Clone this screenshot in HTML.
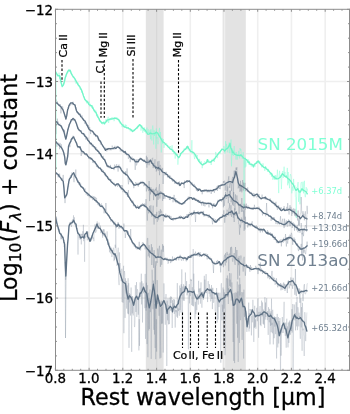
<!DOCTYPE html><html><head><meta charset="utf-8"><title>Spectra</title><style>html,body{margin:0;padding:0;background:#fff;}svg{display:block;}text{font-family:"DejaVu Sans", "Liberation Sans", sans-serif;}</style></head><body><svg width="350" height="414" viewBox="0 0 350 414"><rect width="350" height="414" fill="#fff"/><defs><clipPath id="ax"><rect x="55.5" y="9.3" width="294.0" height="361.0"/></clipPath></defs><path d="M89.12 9.3V370.3M122.84 9.3V370.3M156.56 9.3V370.3M190.28 9.3V370.3M224.00 9.3V370.3M257.72 9.3V370.3M291.44 9.3V370.3M325.16 9.3V370.3M55.5 81.50H349.5M55.5 153.70H349.5M55.5 225.90H349.5M55.5 298.10H349.5" stroke="#efefef" stroke-opacity="1" stroke-width="1.6" fill="none"/><rect x="145.8" y="9.3" width="17.8" height="361.0" fill="#e3e3e3"/><rect x="156.0" y="9.3" width="1.2" height="361.0" fill="#d8d8d8"/><rect x="222.6" y="9.3" width="23.2" height="361.0" fill="#e3e3e3"/><rect x="223.8" y="9.3" width="1.5" height="361.0" fill="#efefef"/><g clip-path="url(#ax)" fill="none" stroke-linejoin="round"><path d="M55.5 72.3L56.0 71.3L56.4 72.0L56.9 74.8L57.3 75.2L57.8 76.2L58.2 75.1L58.7 75.6L59.1 72.7L59.6 78.8L60.0 75.8L60.5 79.3L60.9 80.7L61.4 84.4L61.8 85.9L62.3 86.2L62.7 85.2L63.2 85.9L63.6 84.4L64.1 81.8L64.5 81.8L65.0 80.6L65.4 76.3L65.9 76.3L66.3 76.6L66.8 74.0L67.2 72.7L67.7 72.7L68.1 72.7L68.6 70.4L69.0 69.1L69.5 70.7L69.9 71.6L70.4 70.8L70.8 71.4L71.3 73.8L71.7 73.6L72.2 73.9L72.6 76.3L73.1 77.5L73.5 76.5L74.0 77.2L74.4 76.8L74.9 80.5L75.3 82.2L75.8 83.6L76.2 83.3L76.7 81.7L77.1 82.0L77.6 84.5L78.0 82.7L78.5 84.3L78.9 85.3L79.4 86.2L79.8 86.1L80.3 89.6L80.7 87.7L81.2 88.4L81.6 92.6L82.1 91.1L82.5 93.1L83.0 93.0L83.4 95.7L83.9 96.4L84.3 97.2L84.8 99.9L85.2 99.3L85.7 100.6L86.1 100.3L86.6 103.3L87.0 100.4L87.5 101.4L87.9 102.9L88.4 102.3L88.8 102.0L89.3 101.8L89.7 106.4L90.2 103.8L90.6 104.7L91.1 105.9L91.5 107.5L92.0 105.1L92.4 108.7L92.9 107.1L93.3 106.9L93.8 111.3L94.2 110.3L94.7 112.4L95.1 111.1L95.6 110.3L96.0 110.4L96.5 116.0L96.9 115.4L97.4 114.7L97.8 114.5L98.3 116.8L98.7 119.2L99.2 118.8L99.6 120.1L100.1 120.9L100.5 122.0L101.0 121.1L101.4 121.6L101.9 122.6L102.3 122.9L102.8 124.4L103.2 123.4L103.7 121.4L104.1 123.3L104.6 125.0L105.0 121.3L105.5 120.4L105.9 119.2L106.4 121.1L106.8 121.1L107.3 122.1L107.7 118.4L108.2 116.8L108.6 123.0L109.1 120.4L109.5 118.7L110.0 120.3L110.4 119.5L110.9 119.4L111.3 118.6L111.8 117.4L112.2 118.6L112.7 117.5L113.1 119.0L113.6 118.0L114.0 121.2L114.5 120.2L114.9 117.2L115.4 118.9L115.8 117.4L116.3 117.8L116.7 117.1L117.2 118.0L117.6 118.1L118.1 119.8L118.5 121.2L119.0 121.8L119.4 122.1L119.9 123.6L120.3 123.5L120.8 123.5L121.2 123.7L121.7 124.8L122.1 127.2L122.6 125.3L123.0 125.1L123.5 124.3L123.9 125.3L124.4 127.2L124.8 127.6L125.3 124.5L125.7 126.3L126.2 125.2L126.6 125.1L127.1 128.9L127.5 127.6L128.0 127.7L128.4 127.8L128.9 128.1L129.3 128.7L129.8 128.5L130.2 131.3L130.7 129.8L131.1 130.8L131.6 129.9L132.0 130.9L132.5 129.8L132.9 129.6L133.4 129.9L133.8 129.6L134.3 129.5L134.7 129.9L135.2 129.6L135.6 129.2L136.1 127.8L136.5 127.9L137.0 126.8L137.4 128.8L137.9 125.6L138.3 127.2L138.8 126.7L139.2 125.5L139.7 125.7L140.1 125.0L140.6 126.6L141.0 130.6L141.5 127.8L141.9 125.6L142.4 127.6L142.8 132.8L143.3 128.5L143.7 131.0L144.2 127.3L144.6 131.9L145.1 129.8L145.5 130.2L146.0 133.4L146.4 130.5L146.9 127.6L147.3 130.9L147.8 132.6L148.2 129.3L148.7 133.1L149.1 132.0L149.6 134.5L150.0 130.2L150.5 139.2L150.9 129.2L151.4 136.5L151.8 140.5L152.3 131.8L152.7 125.6L153.2 129.1L153.6 144.5L154.1 130.2L154.5 136.0L155.0 133.6L155.4 131.8L155.9 148.7L156.3 128.5L156.8 138.6L157.2 137.1L157.7 143.2L158.1 144.2L158.6 140.7L159.0 131.1L159.5 127.9L159.9 137.0L160.4 132.0L160.8 139.9L161.3 152.4L161.7 139.1L162.2 138.3L162.6 143.8L163.1 140.1L163.5 139.1L164.0 147.9L164.4 145.0L164.9 143.8L165.3 144.3L165.8 144.9L166.2 143.7L166.7 143.3L167.1 146.3L167.6 145.4L168.0 145.5L168.5 146.2L168.9 146.1L169.4 148.2L169.8 147.2L170.3 146.0L170.7 147.7L171.2 149.9L171.6 148.7L172.1 145.3L172.5 149.9L173.0 151.7L173.4 149.7L173.9 153.8L174.3 152.2L174.8 153.4L175.2 158.6L175.7 152.5L176.1 153.8L176.6 155.9L177.0 154.1L177.5 156.2L177.9 164.7L178.4 158.4L178.8 158.1L179.3 156.7L179.7 156.4L180.2 155.6L180.6 154.2L181.1 154.4L181.5 152.1L182.0 152.7L182.4 151.9L182.9 151.0L183.3 152.5L183.8 151.5L184.2 148.3L184.7 149.3L185.1 149.6L185.6 148.4L186.0 149.0L186.5 147.6L186.9 148.3L187.4 146.7L187.8 149.3L188.3 146.3L188.7 149.1L189.2 151.1L189.6 149.9L190.1 150.7L190.5 150.6L191.0 152.5L191.4 150.8L191.9 140.2L192.3 153.5L192.8 151.7L193.2 153.0L193.7 153.0L194.1 156.2L194.6 159.1L195.0 154.5L195.5 155.7L195.9 154.3L196.4 157.9L196.8 157.5L197.3 155.0L197.7 160.2L198.2 161.1L198.6 160.8L199.1 161.4L199.5 158.9L200.0 162.4L200.4 164.1L200.9 162.9L201.3 161.2L201.8 163.1L202.2 168.2L202.7 164.6L203.1 165.4L203.6 163.3L204.0 164.2L204.5 161.5L204.9 162.3L205.4 161.9L205.8 162.3L206.3 162.1L206.7 161.2L207.2 159.6L207.6 160.3L208.1 161.6L208.5 159.7L209.0 160.7L209.4 161.7L209.9 162.8L210.3 162.6L210.8 162.4L211.2 165.0L211.7 159.7L212.1 160.0L212.6 160.6L213.0 158.8L213.5 159.1L213.9 158.7L214.4 162.0L214.8 158.6L215.3 157.2L215.7 151.9L216.2 154.7L216.6 154.6L217.1 157.2L217.5 158.1L218.0 153.9L218.4 154.0L218.9 152.2L219.3 153.3L219.8 151.9L220.2 153.5L220.7 150.4L221.1 150.9L221.6 149.3L222.0 148.8L222.5 149.6L222.9 149.3L223.4 149.9L223.8 146.0L224.3 147.4L224.7 153.6L225.2 153.5L225.6 141.1L226.1 149.9L226.5 143.9L227.0 146.6L227.4 151.8L227.9 152.4L228.3 146.5L228.8 145.1L229.2 142.5L229.7 153.2L230.1 148.4L230.6 146.7L231.0 139.6L231.5 166.3L231.9 148.0L232.4 154.9L232.8 150.2L233.3 155.9L233.7 151.4L234.2 146.1L234.6 152.4L235.1 152.4L235.5 153.0L236.0 159.6L236.4 152.0L236.9 156.1L237.3 159.7L237.8 154.9L238.2 156.1L238.7 150.9L239.1 155.3L239.6 158.4L240.0 148.1L240.5 150.4L240.9 149.2L241.4 152.7L241.8 156.9L242.3 159.0L242.7 158.5L243.2 152.2L243.6 156.8L244.1 208.3L244.5 158.3L245.0 167.6L245.4 157.7L245.9 166.6L246.3 160.9L246.8 159.3L247.2 160.6L247.7 163.0L248.1 160.5L248.6 159.5L249.0 164.6L249.5 161.0L249.9 164.5L250.4 164.6L250.8 164.5L251.3 166.5L251.7 163.4L252.2 164.7L252.6 166.6L253.1 166.4L253.5 168.0L254.0 166.0L254.4 163.9L254.9 166.9L255.3 164.8L255.8 163.6L256.2 162.0L256.7 161.2L257.1 163.0L257.6 163.0L258.0 161.0L258.5 162.1L258.9 163.3L259.4 161.2L259.8 160.9L260.3 163.1L260.7 164.1L261.2 163.6L261.6 167.3L262.1 165.3L262.5 167.1L263.0 163.3L263.4 165.7L263.9 166.9L264.3 167.6L264.8 170.9L265.2 167.0L265.7 166.1L266.1 169.3L266.6 168.0L267.0 168.4L267.5 171.8L267.9 169.0L268.4 169.0L268.8 170.8L269.3 171.8L269.7 171.3L270.2 174.9L270.6 173.3L271.1 172.5L271.5 176.7L272.0 173.5L272.4 176.2L272.9 179.9L273.3 176.3L273.8 178.5L274.2 176.1L274.7 179.9L275.1 175.1L275.6 179.7L276.0 175.4L276.5 179.7L276.9 179.2L277.4 169.7L277.8 178.0L278.3 180.0L278.7 193.1L279.2 174.4L279.6 170.8L280.1 177.9L280.5 175.4L281.0 179.6L281.4 189.1L281.9 177.9L282.3 172.7L282.8 171.0L283.2 177.9L283.7 172.2L284.1 166.7L284.6 175.1L285.0 171.9L285.5 177.9L285.9 177.5L286.4 175.1L286.8 177.8L287.3 167.9L287.7 185.3L288.2 172.0L288.6 183.3L289.1 180.2L289.5 188.2L290.0 176.8L290.4 174.1L290.9 175.5L291.3 177.2L291.8 193.3L292.2 188.0L292.7 186.5L293.1 190.7L293.6 178.9L294.0 185.2L294.5 187.5L294.9 185.4L295.4 196.6L295.8 197.4L296.3 218.0L296.7 187.0L297.2 187.5L297.6 185.5L298.1 182.1L298.5 201.8L299.0 194.9L299.4 190.0L299.9 204.3L300.3 196.0L300.8 183.8L301.2 182.5L301.7 181.9L302.1 188.7L302.6 191.2L303.0 181.8L303.5 193.3L303.9 187.5L304.4 180.8L304.8 194.2L305.3 197.2L305.7 191.8L306.2 187.2L306.6 188.5L307.1 191.6L307.5 188.7" stroke="#7fffd4" stroke-opacity="0.50" stroke-width="0.8"/><path d="M55.5 102.5L56.0 99.4L56.4 100.4L56.9 102.1L57.3 101.5L57.8 104.9L58.2 104.5L58.7 105.6L59.1 104.7L59.6 104.0L60.0 105.5L60.5 104.4L60.9 113.4L61.4 106.9L61.8 108.8L62.3 106.6L62.7 106.4L63.2 109.2L63.6 111.7L64.1 112.3L64.5 113.8L65.0 116.5L65.4 118.2L65.9 119.2L66.3 118.0L66.8 115.9L67.2 112.8L67.7 110.6L68.1 107.5L68.6 108.8L69.0 104.9L69.5 105.9L69.9 105.2L70.4 105.5L70.8 103.6L71.3 103.7L71.7 103.1L72.2 105.1L72.6 103.2L73.1 101.7L73.5 103.6L74.0 105.0L74.4 103.9L74.9 106.2L75.3 106.1L75.8 107.2L76.2 109.6L76.7 112.7L77.1 111.9L77.6 111.8L78.0 113.6L78.5 113.1L78.9 112.9L79.4 114.9L79.8 113.4L80.3 113.6L80.7 114.8L81.2 115.4L81.6 116.2L82.1 115.5L82.5 118.1L83.0 118.7L83.4 118.5L83.9 120.7L84.3 121.9L84.8 123.8L85.2 121.0L85.7 121.7L86.1 124.7L86.6 125.8L87.0 124.8L87.5 125.6L87.9 126.4L88.4 125.1L88.8 126.8L89.3 128.4L89.7 127.1L90.2 130.8L90.6 134.1L91.1 130.2L91.5 130.2L92.0 130.6L92.4 131.2L92.9 131.4L93.3 131.8L93.8 135.1L94.2 134.4L94.7 133.6L95.1 133.9L95.6 136.9L96.0 134.5L96.5 136.8L96.9 137.1L97.4 137.1L97.8 137.2L98.3 140.3L98.7 138.3L99.2 139.7L99.6 141.5L100.1 141.6L100.5 144.5L101.0 143.5L101.4 143.4L101.9 145.2L102.3 145.5L102.8 146.1L103.2 146.6L103.7 146.3L104.1 148.1L104.6 149.0L105.0 148.7L105.5 147.7L105.9 150.3L106.4 149.2L106.8 151.5L107.3 148.1L107.7 148.8L108.2 147.9L108.6 149.3L109.1 150.3L109.5 148.1L110.0 148.1L110.4 149.8L110.9 150.4L111.3 148.1L111.8 148.7L112.2 145.6L112.7 148.9L113.1 148.7L113.6 148.1L114.0 149.7L114.5 148.7L114.9 145.8L115.4 147.5L115.8 149.3L116.3 148.5L116.7 146.2L117.2 146.0L117.6 146.3L118.1 146.9L118.5 146.6L119.0 147.1L119.4 148.7L119.9 147.8L120.3 151.4L120.8 150.9L121.2 150.3L121.7 150.5L122.1 152.0L122.6 150.6L123.0 150.2L123.5 151.2L123.9 151.8L124.4 151.4L124.8 152.2L125.3 154.3L125.7 153.6L126.2 152.3L126.6 155.3L127.1 154.3L127.5 155.1L128.0 156.0L128.4 158.9L128.9 155.6L129.3 155.8L129.8 156.2L130.2 162.2L130.7 157.8L131.1 157.6L131.6 157.4L132.0 156.7L132.5 158.4L132.9 158.6L133.4 159.1L133.8 161.1L134.3 160.3L134.7 161.4L135.2 169.9L135.6 163.0L136.1 159.1L136.5 165.4L137.0 164.0L137.4 161.7L137.9 159.1L138.3 160.4L138.8 159.6L139.2 160.0L139.7 159.4L140.1 157.6L140.6 157.9L141.0 159.0L141.5 158.2L141.9 158.2L142.4 160.3L142.8 159.5L143.3 159.8L143.7 161.0L144.2 159.2L144.6 160.9L145.1 161.7L145.5 163.2L146.0 163.0L146.4 155.8L146.9 167.7L147.3 157.3L147.8 164.5L148.2 160.4L148.7 159.6L149.1 165.3L149.6 162.6L150.0 160.4L150.5 160.0L150.9 161.4L151.4 163.4L151.8 160.1L152.3 158.2L152.7 157.8L153.2 168.1L153.6 163.4L154.1 165.3L154.5 164.0L155.0 159.2L155.4 167.9L155.9 167.2L156.3 171.5L156.8 168.8L157.2 170.3L157.7 161.5L158.1 166.7L158.6 170.7L159.0 160.9L159.5 175.2L159.9 165.4L160.4 165.1L160.8 167.2L161.3 171.1L161.7 170.9L162.2 172.3L162.6 167.9L163.1 184.0L163.5 174.4L164.0 171.9L164.4 173.6L164.9 175.4L165.3 173.9L165.8 174.8L166.2 171.8L166.7 173.2L167.1 174.9L167.6 177.5L168.0 175.9L168.5 177.1L168.9 175.8L169.4 175.2L169.8 177.1L170.3 175.7L170.7 176.7L171.2 178.1L171.6 180.2L172.1 179.5L172.5 181.6L173.0 179.2L173.4 180.5L173.9 179.5L174.3 181.0L174.8 183.8L175.2 181.2L175.7 181.3L176.1 180.8L176.6 183.8L177.0 184.0L177.5 182.7L177.9 184.6L178.4 185.2L178.8 185.1L179.3 181.4L179.7 186.2L180.2 185.4L180.6 184.6L181.1 183.8L181.5 182.5L182.0 182.8L182.4 182.8L182.9 183.5L183.3 183.3L183.8 184.0L184.2 188.1L184.7 180.5L185.1 182.9L185.6 181.0L186.0 182.2L186.5 181.6L186.9 181.7L187.4 183.0L187.8 181.6L188.3 181.1L188.7 180.6L189.2 181.0L189.6 180.6L190.1 181.8L190.5 182.6L191.0 185.2L191.4 184.0L191.9 182.2L192.3 184.2L192.8 183.9L193.2 185.4L193.7 186.4L194.1 183.9L194.6 186.2L195.0 185.4L195.5 186.9L195.9 188.2L196.4 190.7L196.8 188.0L197.3 190.5L197.7 191.6L198.2 188.0L198.6 188.9L199.1 189.3L199.5 190.2L200.0 190.6L200.4 190.4L200.9 191.0L201.3 191.4L201.8 190.9L202.2 194.3L202.7 190.4L203.1 191.9L203.6 190.1L204.0 189.6L204.5 191.7L204.9 189.7L205.4 189.6L205.8 191.1L206.3 190.7L206.7 189.6L207.2 192.4L207.6 190.4L208.1 189.9L208.5 190.9L209.0 192.4L209.4 191.3L209.9 189.5L210.3 190.0L210.8 191.4L211.2 194.0L211.7 191.1L212.1 191.0L212.6 191.7L213.0 191.2L213.5 190.0L213.9 189.3L214.4 192.8L214.8 188.7L215.3 189.3L215.7 187.9L216.2 188.9L216.6 187.9L217.1 186.2L217.5 190.9L218.0 185.3L218.4 186.4L218.9 188.2L219.3 189.0L219.8 185.4L220.2 189.2L220.7 184.3L221.1 185.0L221.6 185.3L222.0 183.9L222.5 184.6L222.9 183.9L223.4 181.1L223.8 183.0L224.3 180.9L224.7 180.8L225.2 190.6L225.6 185.0L226.1 184.2L226.5 185.2L227.0 191.2L227.4 185.8L227.9 181.5L228.3 180.2L228.8 176.3L229.2 184.8L229.7 188.0L230.1 184.1L230.6 182.6L231.0 184.2L231.5 191.1L231.9 180.3L232.4 178.0L232.8 176.8L233.3 199.3L233.7 179.9L234.2 170.7L234.6 178.0L235.1 170.5L235.5 173.7L236.0 167.6L236.4 169.9L236.9 167.3L237.3 176.2L237.8 178.5L238.2 188.4L238.7 185.4L239.1 187.6L239.6 186.6L240.0 191.9L240.5 180.8L240.9 190.9L241.4 184.9L241.8 192.3L242.3 184.9L242.7 180.0L243.2 190.6L243.6 182.6L244.1 187.7L244.5 186.5L245.0 182.9L245.4 191.2L245.9 189.4L246.3 189.8L246.8 190.5L247.2 191.4L247.7 187.4L248.1 191.7L248.6 190.6L249.0 191.2L249.5 193.4L249.9 191.6L250.4 194.1L250.8 192.9L251.3 192.5L251.7 195.2L252.2 195.8L252.6 196.1L253.1 192.9L253.5 196.1L254.0 197.4L254.4 193.6L254.9 196.0L255.3 195.6L255.8 196.3L256.2 197.4L256.7 197.1L257.1 195.4L257.6 196.5L258.0 196.5L258.5 197.0L258.9 194.0L259.4 196.3L259.8 197.1L260.3 198.7L260.7 199.4L261.2 197.6L261.6 197.3L262.1 194.6L262.5 197.6L263.0 197.7L263.4 197.3L263.9 198.7L264.3 198.7L264.8 197.2L265.2 199.4L265.7 198.1L266.1 197.4L266.6 198.2L267.0 198.2L267.5 200.1L267.9 199.2L268.4 199.6L268.8 198.9L269.3 199.3L269.7 200.0L270.2 198.4L270.6 200.2L271.1 201.5L271.5 202.3L272.0 202.1L272.4 203.1L272.9 200.8L273.3 202.5L273.8 204.0L274.2 204.9L274.7 205.9L275.1 205.1L275.6 203.2L276.0 201.8L276.5 206.0L276.9 206.0L277.4 209.8L277.8 205.8L278.3 207.7L278.7 205.4L279.2 208.3L279.6 209.2L280.1 208.3L280.5 210.2L281.0 207.0L281.4 209.1L281.9 208.9L282.3 209.0L282.8 210.3L283.2 208.7L283.7 208.4L284.1 206.1L284.6 209.5L285.0 208.8L285.5 210.6L285.9 210.4L286.4 210.3L286.8 206.8L287.3 209.4L287.7 203.1L288.2 210.1L288.6 210.4L289.1 214.5L289.5 207.6L290.0 205.1L290.4 210.6L290.9 206.8L291.3 208.3L291.8 215.9L292.2 208.9L292.7 213.6L293.1 212.1L293.6 208.4L294.0 211.3L294.5 215.5L294.9 208.8L295.4 216.3L295.8 213.9L296.3 214.9L296.7 214.8L297.2 217.4L297.6 220.5L298.1 210.5L298.5 225.5L299.0 219.4L299.4 225.7L299.9 217.2L300.3 213.8L300.8 213.0L301.2 197.0L301.7 211.8L302.1 214.5L302.6 215.3L303.0 211.2L303.5 216.2L303.9 213.8L304.4 220.3L304.8 216.9L305.3 211.3L305.7 218.2L306.2 217.0L306.6 228.6L307.1 205.8L307.5 213.9" stroke="#708090" stroke-opacity="0.35" stroke-width="0.8"/><path d="M55.5 119.9L56.0 134.2L56.4 121.0L56.9 122.2L57.3 118.6L57.8 122.7L58.2 121.7L58.7 124.0L59.1 124.9L59.6 124.1L60.0 123.7L60.5 125.8L60.9 126.0L61.4 125.6L61.8 126.3L62.3 128.3L62.7 128.9L63.2 131.6L63.6 129.1L64.1 132.5L64.5 129.9L65.0 135.4L65.4 135.5L65.9 137.3L66.3 136.9L66.8 133.5L67.2 133.9L67.7 129.2L68.1 130.1L68.6 126.7L69.0 124.5L69.5 123.9L69.9 123.6L70.4 123.2L70.8 121.8L71.3 119.4L71.7 119.0L72.2 120.4L72.6 120.5L73.1 117.9L73.5 120.6L74.0 120.0L74.4 120.7L74.9 119.5L75.3 121.0L75.8 121.8L76.2 123.0L76.7 125.3L77.1 125.5L77.6 126.1L78.0 129.2L78.5 127.6L78.9 130.2L79.4 129.3L79.8 130.2L80.3 130.3L80.7 131.3L81.2 130.3L81.6 132.8L82.1 133.1L82.5 133.8L83.0 132.8L83.4 134.5L83.9 134.9L84.3 133.9L84.8 134.0L85.2 135.2L85.7 139.5L86.1 138.0L86.6 138.7L87.0 139.5L87.5 140.3L87.9 137.7L88.4 140.7L88.8 142.0L89.3 140.9L89.7 142.1L90.2 142.5L90.6 143.8L91.1 143.6L91.5 143.5L92.0 146.6L92.4 146.7L92.9 144.2L93.3 144.9L93.8 148.0L94.2 147.9L94.7 147.5L95.1 149.2L95.6 148.8L96.0 147.2L96.5 149.4L96.9 148.9L97.4 150.9L97.8 150.8L98.3 150.3L98.7 153.9L99.2 153.3L99.6 154.0L100.1 153.7L100.5 152.9L101.0 154.4L101.4 157.4L101.9 156.6L102.3 157.8L102.8 158.4L103.2 155.8L103.7 159.7L104.1 158.9L104.6 160.5L105.0 159.5L105.5 161.0L105.9 162.3L106.4 163.5L106.8 163.2L107.3 166.4L107.7 167.2L108.2 167.8L108.6 165.3L109.1 167.3L109.5 168.3L110.0 167.8L110.4 164.9L110.9 167.8L111.3 167.0L111.8 167.5L112.2 167.9L112.7 168.6L113.1 168.9L113.6 168.1L114.0 170.1L114.5 164.8L114.9 164.6L115.4 167.3L115.8 167.5L116.3 168.1L116.7 164.1L117.2 167.1L117.6 166.3L118.1 171.6L118.5 166.2L119.0 164.5L119.4 167.5L119.9 166.8L120.3 168.1L120.8 167.5L121.2 168.0L121.7 169.6L122.1 170.8L122.6 170.4L123.0 171.1L123.5 172.4L123.9 171.7L124.4 172.2L124.8 174.2L125.3 174.0L125.7 171.1L126.2 173.8L126.6 175.1L127.1 168.4L127.5 176.8L128.0 179.7L128.4 184.3L128.9 179.6L129.3 178.1L129.8 178.0L130.2 182.1L130.7 179.1L131.1 182.3L131.6 181.3L132.0 181.8L132.5 181.5L132.9 183.4L133.4 183.3L133.8 188.2L134.3 184.4L134.7 184.0L135.2 184.0L135.6 182.1L136.1 183.6L136.5 183.9L137.0 182.7L137.4 184.1L137.9 185.7L138.3 186.7L138.8 182.7L139.2 183.2L139.7 182.7L140.1 183.7L140.6 182.8L141.0 180.9L141.5 182.3L141.9 183.7L142.4 182.8L142.8 180.9L143.3 184.0L143.7 186.1L144.2 186.1L144.6 185.3L145.1 183.3L145.5 184.4L146.0 185.7L146.4 191.4L146.9 186.2L147.3 186.9L147.8 189.2L148.2 188.2L148.7 191.1L149.1 181.0L149.6 201.1L150.0 188.5L150.5 194.4L150.9 187.2L151.4 191.7L151.8 189.7L152.3 189.6L152.7 191.5L153.2 188.8L153.6 200.1L154.1 189.8L154.5 195.2L155.0 193.0L155.4 188.9L155.9 190.6L156.3 187.4L156.8 206.8L157.2 199.3L157.7 190.6L158.1 199.8L158.6 195.1L159.0 187.4L159.5 184.2L159.9 198.5L160.4 191.9L160.8 191.0L161.3 193.3L161.7 193.9L162.2 192.7L162.6 200.9L163.1 193.4L163.5 199.0L164.0 193.2L164.4 194.8L164.9 198.8L165.3 195.5L165.8 195.9L166.2 196.6L166.7 195.8L167.1 197.0L167.6 197.1L168.0 196.8L168.5 197.1L168.9 195.9L169.4 200.0L169.8 197.9L170.3 200.1L170.7 198.6L171.2 197.9L171.6 198.4L172.1 197.6L172.5 198.5L173.0 202.3L173.4 200.6L173.9 194.9L174.3 195.1L174.8 199.9L175.2 202.0L175.7 198.2L176.1 203.1L176.6 200.6L177.0 201.5L177.5 201.2L177.9 203.1L178.4 203.6L178.8 201.2L179.3 203.1L179.7 204.4L180.2 203.4L180.6 203.3L181.1 204.3L181.5 204.9L182.0 203.3L182.4 203.8L182.9 204.6L183.3 202.5L183.8 202.7L184.2 202.2L184.7 204.0L185.1 202.5L185.6 200.6L186.0 199.7L186.5 199.3L186.9 199.6L187.4 198.5L187.8 197.8L188.3 196.6L188.7 197.5L189.2 199.7L189.6 196.7L190.1 199.1L190.5 197.0L191.0 197.8L191.4 197.7L191.9 197.2L192.3 197.9L192.8 199.8L193.2 198.8L193.7 199.5L194.1 198.8L194.6 197.9L195.0 200.3L195.5 198.7L195.9 198.3L196.4 200.2L196.8 199.4L197.3 202.1L197.7 201.2L198.2 199.8L198.6 203.0L199.1 201.8L199.5 202.5L200.0 200.5L200.4 200.7L200.9 202.8L201.3 202.2L201.8 205.6L202.2 201.7L202.7 202.4L203.1 201.5L203.6 205.8L204.0 202.0L204.5 203.6L204.9 206.4L205.4 204.3L205.8 203.6L206.3 202.7L206.7 203.4L207.2 204.3L207.6 203.2L208.1 203.9L208.5 204.5L209.0 207.4L209.4 203.8L209.9 203.6L210.3 202.3L210.8 205.0L211.2 202.9L211.7 204.4L212.1 203.7L212.6 208.3L213.0 206.3L213.5 205.9L213.9 203.0L214.4 205.8L214.8 205.4L215.3 205.8L215.7 204.3L216.2 204.4L216.6 204.5L217.1 202.6L217.5 202.3L218.0 199.8L218.4 201.6L218.9 201.1L219.3 201.3L219.8 199.5L220.2 199.6L220.7 199.6L221.1 201.5L221.6 201.6L222.0 199.3L222.5 198.4L222.9 197.1L223.4 207.3L223.8 198.5L224.3 205.8L224.7 201.4L225.2 197.4L225.6 191.9L226.1 198.2L226.5 199.0L227.0 197.1L227.4 190.5L227.9 186.4L228.3 203.2L228.8 196.7L229.2 197.4L229.7 190.7L230.1 194.3L230.6 190.7L231.0 202.3L231.5 198.1L231.9 200.9L232.4 204.7L232.8 200.6L233.3 205.8L233.7 192.0L234.2 198.7L234.6 205.6L235.1 210.2L235.5 194.4L236.0 203.6L236.4 198.8L236.9 195.4L237.3 198.4L237.8 200.7L238.2 204.9L238.7 207.2L239.1 213.9L239.6 205.4L240.0 203.6L240.5 207.2L240.9 206.5L241.4 211.9L241.8 198.0L242.3 208.8L242.7 211.7L243.2 209.5L243.6 207.5L244.1 203.7L244.5 219.8L245.0 204.6L245.4 209.6L245.9 207.6L246.3 203.6L246.8 206.0L247.2 207.9L247.7 207.4L248.1 205.6L248.6 206.3L249.0 207.1L249.5 208.2L249.9 207.4L250.4 208.2L250.8 209.3L251.3 209.8L251.7 208.1L252.2 208.3L252.6 207.4L253.1 209.2L253.5 207.2L254.0 209.1L254.4 204.8L254.9 208.0L255.3 209.1L255.8 209.4L256.2 208.3L256.7 208.4L257.1 207.0L257.6 208.6L258.0 209.4L258.5 208.1L258.9 206.7L259.4 207.7L259.8 210.8L260.3 211.0L260.7 210.5L261.2 211.8L261.6 211.6L262.1 211.8L262.5 215.4L263.0 212.7L263.4 212.7L263.9 212.2L264.3 214.0L264.8 212.8L265.2 214.3L265.7 216.3L266.1 215.0L266.6 203.0L267.0 213.0L267.5 213.1L267.9 214.0L268.4 215.4L268.8 215.3L269.3 215.4L269.7 215.6L270.2 215.8L270.6 215.2L271.1 220.9L271.5 218.3L272.0 217.1L272.4 218.8L272.9 219.3L273.3 217.1L273.8 219.1L274.2 217.3L274.7 220.1L275.1 220.0L275.6 222.2L276.0 224.1L276.5 221.9L276.9 221.4L277.4 222.4L277.8 224.4L278.3 221.3L278.7 222.6L279.2 223.0L279.6 224.6L280.1 220.5L280.5 216.2L281.0 222.9L281.4 224.3L281.9 223.2L282.3 220.6L282.8 218.7L283.2 223.9L283.7 224.9L284.1 228.1L284.6 218.7L285.0 226.4L285.5 221.9L285.9 222.4L286.4 220.4L286.8 225.0L287.3 226.7L287.7 222.2L288.2 221.3L288.6 219.4L289.1 226.2L289.5 223.0L290.0 222.9L290.4 226.2L290.9 223.3L291.3 221.2L291.8 223.6L292.2 228.0L292.7 223.3L293.1 222.3L293.6 223.5L294.0 223.1L294.5 230.7L294.9 224.8L295.4 224.9L295.8 228.1L296.3 227.6L296.7 230.3L297.2 224.8L297.6 231.6L298.1 232.3L298.5 229.1L299.0 229.8L299.4 228.0L299.9 232.8L300.3 232.1L300.8 228.5L301.2 223.0L301.7 228.0L302.1 234.4L302.6 228.7L303.0 232.0L303.5 236.2L303.9 231.5L304.4 231.3L304.8 227.9L305.3 225.1L305.7 225.8L306.2 227.0L306.6 231.6L307.1 229.6L307.5 230.5" stroke="#708090" stroke-opacity="0.35" stroke-width="0.8"/><path d="M55.5 141.1L56.0 143.4L56.4 144.4L56.9 146.8L57.3 143.8L57.8 142.3L58.2 144.3L58.7 144.1L59.1 143.9L59.6 149.2L60.0 142.9L60.5 147.7L60.9 146.6L61.4 144.3L61.8 148.2L62.3 148.5L62.7 150.0L63.2 150.1L63.6 154.4L64.1 154.4L64.5 153.7L65.0 159.0L65.4 163.5L65.9 164.5L66.3 162.6L66.8 160.5L67.2 157.5L67.7 157.9L68.1 150.6L68.6 147.8L69.0 144.6L69.5 144.3L69.9 147.1L70.4 142.2L70.8 142.3L71.3 138.7L71.7 139.3L72.2 137.7L72.6 139.6L73.1 135.7L73.5 137.7L74.0 136.3L74.4 137.5L74.9 140.5L75.3 139.8L75.8 142.0L76.2 142.0L76.7 142.1L77.1 144.4L77.6 144.8L78.0 148.1L78.5 146.7L78.9 146.8L79.4 146.1L79.8 148.4L80.3 147.4L80.7 148.4L81.2 156.0L81.6 151.8L82.1 150.7L82.5 153.2L83.0 153.7L83.4 151.5L83.9 152.7L84.3 153.8L84.8 153.8L85.2 154.8L85.7 155.3L86.1 155.5L86.6 154.8L87.0 153.9L87.5 156.5L87.9 156.3L88.4 156.9L88.8 158.7L89.3 157.2L89.7 156.9L90.2 159.5L90.6 157.9L91.1 160.0L91.5 158.1L92.0 158.3L92.4 160.6L92.9 163.0L93.3 161.1L93.8 162.9L94.2 163.3L94.7 162.5L95.1 161.1L95.6 163.4L96.0 164.1L96.5 166.8L96.9 165.7L97.4 167.3L97.8 165.4L98.3 167.1L98.7 167.0L99.2 167.4L99.6 168.1L100.1 167.1L100.5 168.2L101.0 169.6L101.4 169.5L101.9 169.5L102.3 169.0L102.8 171.1L103.2 170.0L103.7 173.0L104.1 173.7L104.6 175.3L105.0 172.9L105.5 175.8L105.9 176.4L106.4 174.6L106.8 176.9L107.3 177.8L107.7 176.2L108.2 178.2L108.6 177.4L109.1 179.6L109.5 178.7L110.0 178.8L110.4 180.6L110.9 179.1L111.3 182.3L111.8 182.6L112.2 182.6L112.7 181.8L113.1 183.7L113.6 184.2L114.0 183.7L114.5 182.8L114.9 185.2L115.4 186.7L115.8 185.1L116.3 184.0L116.7 185.3L117.2 184.3L117.6 186.8L118.1 184.2L118.5 184.2L119.0 184.2L119.4 184.4L119.9 185.2L120.3 188.1L120.8 185.0L121.2 190.1L121.7 189.2L122.1 185.0L122.6 188.3L123.0 192.2L123.5 189.5L123.9 191.2L124.4 192.1L124.8 191.3L125.3 191.9L125.7 190.8L126.2 194.8L126.6 193.9L127.1 194.1L127.5 197.0L128.0 193.9L128.4 190.1L128.9 197.7L129.3 197.1L129.8 198.7L130.2 198.8L130.7 200.7L131.1 199.6L131.6 202.8L132.0 200.4L132.5 202.4L132.9 200.6L133.4 206.1L133.8 204.5L134.3 206.5L134.7 205.8L135.2 205.2L135.6 207.4L136.1 208.3L136.5 208.8L137.0 206.5L137.4 205.3L137.9 205.6L138.3 207.2L138.8 208.4L139.2 207.4L139.7 208.6L140.1 208.4L140.6 204.7L141.0 206.1L141.5 204.3L141.9 205.6L142.4 203.4L142.8 203.1L143.3 205.7L143.7 205.9L144.2 207.2L144.6 203.5L145.1 204.1L145.5 206.5L146.0 199.1L146.4 206.8L146.9 214.6L147.3 220.6L147.8 209.7L148.2 208.1L148.7 213.4L149.1 209.1L149.6 205.9L150.0 212.1L150.5 208.3L150.9 205.3L151.4 210.8L151.8 216.7L152.3 212.0L152.7 212.0L153.2 205.7L153.6 217.5L154.1 224.5L154.5 214.5L155.0 214.7L155.4 218.8L155.9 214.2L156.3 215.7L156.8 211.9L157.2 221.8L157.7 220.9L158.1 217.3L158.6 219.5L159.0 210.9L159.5 213.7L159.9 216.3L160.4 209.1L160.8 213.2L161.3 210.7L161.7 211.3L162.2 215.5L162.6 215.4L163.1 215.0L163.5 221.3L164.0 217.4L164.4 214.9L164.9 215.8L165.3 217.7L165.8 213.7L166.2 217.8L166.7 215.7L167.1 215.6L167.6 214.9L168.0 217.6L168.5 216.5L168.9 216.7L169.4 215.3L169.8 216.7L170.3 217.1L170.7 216.1L171.2 216.2L171.6 218.1L172.1 218.3L172.5 220.4L173.0 218.3L173.4 220.6L173.9 217.7L174.3 218.6L174.8 219.8L175.2 220.0L175.7 218.5L176.1 217.7L176.6 218.9L177.0 218.5L177.5 218.3L177.9 218.5L178.4 218.0L178.8 217.3L179.3 215.9L179.7 216.6L180.2 218.2L180.6 215.6L181.1 216.3L181.5 218.1L182.0 216.7L182.4 218.7L182.9 219.1L183.3 219.1L183.8 216.2L184.2 217.8L184.7 217.4L185.1 217.0L185.6 217.8L186.0 216.5L186.5 216.0L186.9 214.3L187.4 217.5L187.8 214.2L188.3 214.8L188.7 217.4L189.2 213.6L189.6 212.4L190.1 212.6L190.5 213.5L191.0 213.5L191.4 216.2L191.9 212.0L192.3 213.2L192.8 214.5L193.2 212.9L193.7 213.9L194.1 210.3L194.6 214.6L195.0 214.2L195.5 222.0L195.9 214.3L196.4 212.9L196.8 213.1L197.3 213.9L197.7 212.0L198.2 212.7L198.6 211.4L199.1 212.9L199.5 214.9L200.0 212.7L200.4 213.7L200.9 211.3L201.3 213.0L201.8 212.6L202.2 212.8L202.7 215.1L203.1 214.1L203.6 210.9L204.0 216.6L204.5 215.2L204.9 215.0L205.4 216.1L205.8 215.8L206.3 215.0L206.7 216.1L207.2 215.7L207.6 216.1L208.1 217.3L208.5 217.9L209.0 214.2L209.4 215.2L209.9 217.4L210.3 216.4L210.8 216.5L211.2 217.1L211.7 219.0L212.1 220.8L212.6 224.3L213.0 219.9L213.5 218.3L213.9 218.3L214.4 220.9L214.8 221.3L215.3 219.8L215.7 219.1L216.2 223.0L216.6 220.8L217.1 220.7L217.5 220.8L218.0 221.1L218.4 219.9L218.9 219.1L219.3 220.6L219.8 218.1L220.2 216.9L220.7 216.7L221.1 216.4L221.6 216.7L222.0 216.7L222.5 214.4L222.9 216.7L223.4 215.4L223.8 210.3L224.3 215.5L224.7 222.7L225.2 218.1L225.6 217.2L226.1 215.5L226.5 216.8L227.0 209.7L227.4 210.7L227.9 211.4L228.3 215.5L228.8 208.3L229.2 208.2L229.7 203.1L230.1 215.2L230.6 212.3L231.0 205.2L231.5 216.9L231.9 210.1L232.4 210.8L232.8 212.0L233.3 217.8L233.7 213.0L234.2 222.0L234.6 208.3L235.1 215.7L235.5 212.0L236.0 212.4L236.4 211.4L236.9 213.2L237.3 213.2L237.8 218.6L238.2 217.4L238.7 224.0L239.1 224.1L239.6 234.7L240.0 224.8L240.5 227.5L240.9 223.5L241.4 217.5L241.8 218.7L242.3 223.0L242.7 219.6L243.2 219.6L243.6 210.5L244.1 230.9L244.5 220.8L245.0 229.5L245.4 216.7L245.9 223.7L246.3 222.4L246.8 222.9L247.2 222.6L247.7 227.5L248.1 225.3L248.6 224.0L249.0 225.9L249.5 223.6L249.9 222.9L250.4 226.2L250.8 225.2L251.3 224.0L251.7 222.7L252.2 221.3L252.6 224.3L253.1 226.7L253.5 225.9L254.0 226.1L254.4 227.3L254.9 226.4L255.3 227.7L255.8 228.2L256.2 225.4L256.7 228.7L257.1 226.1L257.6 229.1L258.0 228.9L258.5 230.6L258.9 230.0L259.4 227.6L259.8 229.7L260.3 232.5L260.7 228.1L261.2 231.0L261.6 230.4L262.1 229.9L262.5 232.3L263.0 228.0L263.4 228.3L263.9 230.3L264.3 229.7L264.8 230.8L265.2 231.6L265.7 231.4L266.1 233.4L266.6 232.4L267.0 232.9L267.5 230.2L267.9 234.8L268.4 231.7L268.8 232.7L269.3 233.7L269.7 235.0L270.2 232.3L270.6 233.0L271.1 235.3L271.5 235.8L272.0 235.6L272.4 233.7L272.9 237.9L273.3 236.8L273.8 235.5L274.2 239.9L274.7 238.0L275.1 236.5L275.6 239.6L276.0 239.6L276.5 242.8L276.9 239.8L277.4 243.2L277.8 242.2L278.3 241.4L278.7 243.4L279.2 240.4L279.6 240.5L280.1 240.8L280.5 239.6L281.0 241.8L281.4 246.4L281.9 239.3L282.3 239.3L282.8 241.9L283.2 242.6L283.7 237.7L284.1 241.2L284.6 240.8L285.0 240.7L285.5 234.0L285.9 241.0L286.4 246.5L286.8 239.0L287.3 241.5L287.7 243.6L288.2 238.0L288.6 239.8L289.1 235.8L289.5 239.0L290.0 234.6L290.4 235.0L290.9 238.0L291.3 232.8L291.8 233.9L292.2 237.4L292.7 244.8L293.1 240.1L293.6 240.2L294.0 237.5L294.5 242.2L294.9 238.9L295.4 243.5L295.8 243.5L296.3 245.1L296.7 244.8L297.2 246.0L297.6 243.4L298.1 249.5L298.5 251.1L299.0 247.8L299.4 247.4L299.9 250.0L300.3 247.4L300.8 248.1L301.2 243.9L301.7 256.2L302.1 232.8L302.6 260.4L303.0 257.2L303.5 247.8L303.9 252.8L304.4 249.6L304.8 250.0L305.3 253.9L305.7 254.1L306.2 249.2L306.6 245.8L307.1 241.6L307.5 246.1" stroke="#708090" stroke-opacity="0.35" stroke-width="0.8"/><path d="M55.5 174.8L56.0 174.3L56.4 172.5L56.9 174.4L57.3 173.2L57.8 173.2L58.2 177.3L58.7 174.0L59.1 177.1L59.6 173.6L60.0 176.2L60.5 178.8L60.9 178.3L61.4 178.8L61.8 179.3L62.3 178.4L62.7 180.3L63.2 174.9L63.6 184.2L64.1 189.1L64.5 197.3L65.0 203.1L65.4 199.3L65.9 196.7L66.3 193.8L66.8 195.2L67.2 192.0L67.7 190.3L68.1 186.6L68.6 186.8L69.0 179.3L69.5 180.5L69.9 178.3L70.4 175.3L70.8 176.0L71.3 177.9L71.7 172.7L72.2 173.3L72.6 173.2L73.1 174.6L73.5 175.7L74.0 182.2L74.4 174.6L74.9 174.9L75.3 177.2L75.8 169.5L76.2 177.7L76.7 177.7L77.1 178.8L77.6 182.7L78.0 180.1L78.5 181.5L78.9 184.8L79.4 182.2L79.8 182.3L80.3 183.0L80.7 183.5L81.2 188.0L81.6 186.7L82.1 187.8L82.5 187.3L83.0 188.0L83.4 187.1L83.9 188.2L84.3 191.3L84.8 189.2L85.2 188.6L85.7 191.1L86.1 194.5L86.6 193.5L87.0 193.2L87.5 196.0L87.9 194.0L88.4 196.3L88.8 193.5L89.3 194.1L89.7 195.7L90.2 198.1L90.6 196.0L91.1 197.8L91.5 198.2L92.0 195.7L92.4 198.9L92.9 200.2L93.3 197.1L93.8 196.0L94.2 196.7L94.7 198.3L95.1 196.9L95.6 202.2L96.0 197.7L96.5 198.2L96.9 202.3L97.4 201.6L97.8 204.8L98.3 204.8L98.7 202.8L99.2 206.0L99.6 204.2L100.1 204.3L100.5 204.8L101.0 204.4L101.4 203.5L101.9 206.6L102.3 205.8L102.8 205.5L103.2 209.0L103.7 209.8L104.1 213.3L104.6 209.0L105.0 208.7L105.5 210.3L105.9 203.0L106.4 210.0L106.8 211.7L107.3 213.7L107.7 215.7L108.2 214.8L108.6 214.8L109.1 216.5L109.5 217.4L110.0 218.1L110.4 217.0L110.9 221.6L111.3 219.9L111.8 219.9L112.2 219.6L112.7 220.2L113.1 222.3L113.6 223.4L114.0 225.0L114.5 222.0L114.9 221.6L115.4 224.6L115.8 226.7L116.3 228.0L116.7 224.3L117.2 225.6L117.6 224.4L118.1 222.0L118.5 227.1L119.0 228.9L119.4 225.0L119.9 225.0L120.3 228.1L120.8 227.2L121.2 228.3L121.7 228.7L122.1 227.7L122.6 228.4L123.0 227.4L123.5 228.7L123.9 223.6L124.4 231.6L124.8 229.8L125.3 238.0L125.7 233.5L126.2 233.2L126.6 230.0L127.1 231.0L127.5 234.9L128.0 231.1L128.4 232.5L128.9 235.2L129.3 236.2L129.8 236.7L130.2 239.6L130.7 229.0L131.1 240.1L131.6 240.6L132.0 242.8L132.5 243.2L132.9 244.4L133.4 243.0L133.8 246.2L134.3 246.4L134.7 246.7L135.2 244.7L135.6 248.2L136.1 248.5L136.5 246.7L137.0 249.4L137.4 248.3L137.9 246.8L138.3 247.8L138.8 248.5L139.2 241.8L139.7 248.7L140.1 248.8L140.6 250.4L141.0 246.9L141.5 245.4L141.9 246.9L142.4 242.4L142.8 243.0L143.3 242.6L143.7 246.2L144.2 244.3L144.6 244.8L145.1 249.4L145.5 246.6L146.0 247.5L146.4 307.6L146.9 245.5L147.3 238.3L147.8 238.2L148.2 256.3L148.7 252.7L149.1 245.2L149.6 257.6L150.0 250.1L150.5 252.3L150.9 251.8L151.4 244.2L151.8 265.0L152.3 247.3L152.7 252.6L153.2 255.2L153.6 267.8L154.1 250.1L154.5 258.5L155.0 284.2L155.4 266.7L155.9 265.6L156.3 264.2L156.8 261.2L157.2 262.8L157.7 248.5L158.1 250.9L158.6 257.5L159.0 249.2L159.5 245.8L159.9 254.0L160.4 266.8L160.8 255.1L161.3 249.7L161.7 264.8L162.2 258.2L162.6 244.2L163.1 251.8L163.5 245.8L164.0 256.7L164.4 259.2L164.9 260.0L165.3 257.7L165.8 257.9L166.2 260.2L166.7 260.7L167.1 257.7L167.6 258.2L168.0 263.7L168.5 262.7L168.9 259.9L169.4 259.0L169.8 258.9L170.3 259.2L170.7 263.1L171.2 260.6L171.6 261.4L172.1 261.8L172.5 256.5L173.0 260.1L173.4 259.5L173.9 260.2L174.3 258.4L174.8 257.5L175.2 259.5L175.7 258.8L176.1 260.8L176.6 260.0L177.0 258.4L177.5 257.3L177.9 257.6L178.4 257.8L178.8 260.3L179.3 256.4L179.7 256.8L180.2 254.8L180.6 258.3L181.1 259.6L181.5 260.7L182.0 258.6L182.4 257.8L182.9 257.5L183.3 260.6L183.8 259.0L184.2 256.7L184.7 258.2L185.1 259.0L185.6 259.1L186.0 261.3L186.5 261.1L186.9 259.8L187.4 256.8L187.8 256.6L188.3 258.3L188.7 256.7L189.2 256.7L189.6 255.2L190.1 257.8L190.5 255.9L191.0 254.6L191.4 258.0L191.9 256.0L192.3 255.5L192.8 253.9L193.2 254.9L193.7 254.7L194.1 254.0L194.6 253.2L195.0 254.5L195.5 251.6L195.9 255.4L196.4 254.7L196.8 253.7L197.3 255.2L197.7 256.1L198.2 256.1L198.6 252.4L199.1 255.4L199.5 256.8L200.0 252.0L200.4 254.4L200.9 254.9L201.3 257.0L201.8 255.1L202.2 256.3L202.7 255.0L203.1 255.3L203.6 255.5L204.0 254.7L204.5 256.4L204.9 255.5L205.4 256.0L205.8 253.3L206.3 254.4L206.7 254.6L207.2 259.4L207.6 254.0L208.1 257.3L208.5 257.6L209.0 257.9L209.4 258.3L209.9 256.8L210.3 259.0L210.8 258.3L211.2 258.6L211.7 258.6L212.1 262.6L212.6 263.4L213.0 265.1L213.5 273.0L213.9 261.5L214.4 263.1L214.8 263.8L215.3 263.6L215.7 263.9L216.2 262.1L216.6 260.9L217.1 264.3L217.5 260.3L218.0 260.5L218.4 263.0L218.9 261.7L219.3 263.1L219.8 265.6L220.2 263.2L220.7 272.4L221.1 264.1L221.6 266.0L222.0 264.2L222.5 261.8L222.9 262.3L223.4 267.2L223.8 259.8L224.3 256.5L224.7 254.7L225.2 265.5L225.6 253.2L226.1 260.3L226.5 262.5L227.0 251.9L227.4 254.5L227.9 253.9L228.3 256.7L228.8 271.2L229.2 254.3L229.7 253.5L230.1 257.4L230.6 247.3L231.0 255.4L231.5 246.8L231.9 249.0L232.4 260.3L232.8 261.7L233.3 258.4L233.7 257.0L234.2 253.0L234.6 261.2L235.1 264.9L235.5 247.0L236.0 258.3L236.4 257.2L236.9 250.0L237.3 259.1L237.8 279.4L238.2 257.8L238.7 265.2L239.1 255.9L239.6 275.7L240.0 261.3L240.5 258.2L240.9 255.5L241.4 258.0L241.8 258.5L242.3 264.1L242.7 264.5L243.2 271.6L243.6 259.5L244.1 256.8L244.5 261.7L245.0 271.3L245.4 275.7L245.9 269.1L246.3 263.9L246.8 266.1L247.2 268.1L247.7 267.2L248.1 265.6L248.6 268.0L249.0 267.9L249.5 268.2L249.9 271.8L250.4 265.0L250.8 269.5L251.3 267.0L251.7 267.0L252.2 269.3L252.6 269.7L253.1 269.2L253.5 268.8L254.0 269.0L254.4 269.3L254.9 269.0L255.3 268.2L255.8 265.8L256.2 269.1L256.7 267.3L257.1 268.8L257.6 270.0L258.0 274.1L258.5 268.1L258.9 270.8L259.4 268.4L259.8 270.0L260.3 262.5L260.7 271.8L261.2 268.8L261.6 268.7L262.1 269.9L262.5 273.8L263.0 271.3L263.4 271.8L263.9 272.5L264.3 271.1L264.8 272.8L265.2 271.5L265.7 271.5L266.1 273.5L266.6 274.1L267.0 273.5L267.5 274.8L267.9 278.3L268.4 275.7L268.8 275.6L269.3 277.6L269.7 279.3L270.2 275.9L270.6 278.2L271.1 276.5L271.5 275.4L272.0 270.9L272.4 277.7L272.9 277.4L273.3 276.9L273.8 280.4L274.2 277.9L274.7 278.0L275.1 284.7L275.6 283.4L276.0 281.1L276.5 278.3L276.9 283.1L277.4 285.9L277.8 287.3L278.3 283.0L278.7 283.7L279.2 286.3L279.6 284.4L280.1 286.6L280.5 283.1L281.0 290.3L281.4 287.8L281.9 283.7L282.3 288.7L282.8 289.7L283.2 288.2L283.7 282.5L284.1 287.0L284.6 283.9L285.0 290.9L285.5 287.8L285.9 284.3L286.4 285.0L286.8 286.9L287.3 293.0L287.7 281.9L288.2 280.5L288.6 280.7L289.1 288.4L289.5 287.1L290.0 283.6L290.4 285.3L290.9 277.4L291.3 285.5L291.8 284.8L292.2 285.4L292.7 288.8L293.1 277.8L293.6 281.5L294.0 285.8L294.5 283.3L294.9 294.8L295.4 269.0L295.8 290.1L296.3 296.1L296.7 292.6L297.2 287.8L297.6 289.9L298.1 288.2L298.5 289.2L299.0 293.1L299.4 288.5L299.9 302.8L300.3 290.2L300.8 289.9L301.2 290.2L301.7 292.4L302.1 294.0L302.6 294.4L303.0 301.2L303.5 293.8L303.9 285.9L304.4 284.2L304.8 293.5L305.3 293.9L305.7 293.7L306.2 291.5L306.6 290.7L307.1 283.7L307.5 283.5" stroke="#708090" stroke-opacity="0.35" stroke-width="0.8"/><path d="M55.5 217.3L55.8 216.0L56.1 216.6L56.4 218.0L56.7 217.8L57.0 223.9L57.3 222.9L57.6 226.0L57.9 229.6L58.2 229.0L58.5 228.2L58.8 231.7L59.1 231.1L59.4 229.4L59.7 231.7L60.0 232.8L60.3 233.5L60.6 235.0L60.9 239.4L61.2 233.1L61.5 239.1L61.8 235.3L62.1 236.8L62.4 236.1L62.7 236.1L63.0 237.8L63.3 236.5L63.6 243.0L63.9 239.8L64.2 247.0L64.5 241.9L64.8 251.9L65.1 258.5L65.4 264.2L65.7 279.9L66.0 274.1L66.3 266.7L66.6 260.5L66.9 253.9L67.2 250.3L67.5 245.5L67.8 242.2L68.1 236.8L68.4 234.6L68.7 228.7L69.0 226.6L69.3 224.9L69.6 222.3L69.9 222.6L70.2 225.4L70.5 224.2L70.8 221.8L71.1 224.4L71.4 227.0L71.7 224.6L72.0 220.6L72.3 223.0L72.6 222.0L72.9 219.1L73.2 223.0L73.5 215.3L73.8 220.4L74.1 221.8L74.4 217.3L74.7 224.9L75.0 224.1L75.3 223.7L75.6 226.5L75.9 225.6L76.2 224.7L76.5 227.1L76.8 229.1L77.1 228.3L77.4 227.9L77.7 230.1L78.0 254.6L78.3 232.2L78.6 233.6L78.9 234.7L79.2 238.2L79.5 237.1L79.8 236.7L80.1 239.8L80.4 233.8L80.7 234.8L81.0 237.0L81.3 244.4L81.6 233.8L81.9 235.2L82.2 234.2L82.5 237.5L82.8 231.2L83.1 236.6L83.4 224.8L83.7 241.2L84.0 235.3L84.3 235.5L84.6 261.8L84.9 236.7L85.2 237.8L85.5 238.0L85.8 236.0L86.1 236.8L86.4 231.4L86.7 232.2L87.0 232.4L87.3 240.3L87.6 235.8L87.9 231.6L88.2 237.0L88.5 237.0L88.8 239.2L89.1 237.4L89.4 237.4L89.7 238.4L90.0 240.0L90.3 238.7L90.6 240.3L90.9 237.7L91.2 241.1L91.5 237.8L91.8 235.4L92.1 239.3L92.4 234.4L92.7 234.8L93.0 238.1L93.3 238.6L93.6 237.6L93.9 241.2L94.2 230.9L94.5 230.3L94.8 227.2L95.1 224.2L95.4 232.1L95.7 232.9L96.0 230.6L96.3 231.3L96.6 230.6L96.9 225.6L97.2 221.4L97.5 228.7L97.8 225.9L98.1 226.5L98.4 226.7L98.7 228.3L99.0 222.6L99.3 228.3L99.6 228.1L99.9 227.2L100.2 228.7L100.5 225.6L100.8 233.2L101.1 231.0L101.4 232.1L101.7 231.5L102.0 229.6L102.3 233.6L102.6 237.7L102.9 232.7L103.2 235.9L103.5 229.3L103.8 233.3L104.1 229.3L104.4 233.1L104.7 236.8L105.0 234.1L105.3 232.8L105.6 235.4L105.9 236.0L106.2 237.3L106.5 238.5L106.8 240.8L107.1 231.4L107.4 239.2L107.7 244.9L108.0 239.4L108.3 242.8L108.6 243.2L108.9 244.3L109.2 242.6L109.5 252.3L109.8 247.0L110.1 246.2L110.4 248.6L110.7 253.4L111.0 253.0L111.3 249.8L111.6 247.7L111.9 257.0L112.2 253.7L112.5 251.2L112.8 251.4L113.1 250.2L113.4 247.7L113.7 249.0L114.0 261.2L114.3 254.3L114.6 260.0L114.9 252.8L115.2 244.7L115.5 247.9L115.8 224.4L116.1 247.0L116.4 249.4L116.7 250.4L117.0 266.0L117.3 261.5L117.6 255.8L117.9 255.2L118.2 247.7L118.5 277.3L118.8 281.5L119.1 285.1L119.4 252.4L119.7 272.2L120.0 263.0L120.3 273.9L120.6 276.3L120.9 278.1L121.2 281.2L121.5 275.9L121.8 268.7L122.1 302.1L122.4 279.0L122.7 284.5L123.0 302.7L123.3 274.0L123.6 265.8L123.9 333.2L124.2 280.0L124.5 271.0L124.8 273.7L125.1 317.9L125.4 278.3L125.7 290.8L126.0 293.5L126.3 280.9L126.6 308.6L126.9 290.5L127.2 285.4L127.5 305.6L127.8 313.5L128.1 278.2L128.4 314.2L128.7 283.2L129.0 347.9L129.3 293.2L129.6 302.5L129.9 293.9L130.2 294.3L130.5 315.5L130.8 302.6L131.1 287.5L131.4 310.3L131.7 351.9L132.0 296.0L132.3 313.4L132.6 296.4L132.9 307.5L133.2 315.4L133.5 307.7L133.8 300.0L134.1 299.0L134.4 326.2L134.7 327.1L135.0 322.0L135.3 285.2L135.6 291.0L135.9 312.0L136.2 300.2L136.5 282.1L136.8 316.9L137.1 303.3L137.4 289.2L137.7 290.2L138.0 291.8L138.3 314.7L138.6 298.8L138.9 350.4L139.2 319.2L139.5 345.9L139.8 304.7L140.1 282.4L140.4 297.0L140.7 296.2L141.0 284.3L141.3 273.7L141.6 304.4L141.9 281.3L142.2 293.3L142.5 322.5L142.8 296.6L143.1 283.3L143.4 290.3L143.7 293.3L144.0 287.8L144.3 292.5L144.6 293.4L144.9 308.2L145.2 273.9L145.5 338.9L145.8 290.0L146.1 310.7L146.4 282.7L146.7 326.6L147.0 344.1L147.3 289.9L147.6 285.2L147.9 357.2L148.2 296.4L148.5 292.8L148.8 330.5L149.1 297.9L149.4 329.0L149.7 293.2L150.0 289.5L150.3 312.1L150.6 308.8L150.9 299.5L151.2 358.9L151.5 312.1L151.8 296.4L152.1 269.7L152.4 276.8L152.7 286.5L153.0 309.2L153.3 280.5L153.6 282.9L153.9 329.8L154.2 293.8L154.5 334.5L154.8 303.8L155.1 348.0L155.4 261.3L155.7 359.2L156.0 334.6L156.3 319.2L156.6 351.6L156.9 303.5L157.2 280.1L157.5 290.6L157.8 304.0L158.1 301.0L158.4 298.3L158.7 309.3L159.0 315.8L159.3 303.6L159.6 300.4L159.9 358.5L160.2 301.7L160.5 342.2L160.8 357.6L161.1 357.6L161.4 300.7L161.7 323.8L162.0 306.9L162.3 323.4L162.6 312.2L162.9 301.3L163.2 352.6L163.5 317.4L163.8 283.5L164.1 283.5L164.4 301.2L164.7 301.5L165.0 314.0L165.3 324.7L165.6 297.2L165.9 294.1L166.2 294.7L166.5 303.7L166.8 366.0L167.1 300.7L167.4 308.6L167.7 320.4L168.0 298.2L168.3 322.2L168.6 324.4L168.9 305.2L169.2 324.0L169.5 323.9L169.8 297.7L170.1 302.2L170.4 310.7L170.7 296.4L171.0 302.9L171.3 296.8L171.6 297.6L171.9 298.7L172.2 328.0L172.5 300.2L172.8 309.0L173.1 303.3L173.4 307.7L173.7 299.0L174.0 309.2L174.3 313.9L174.6 299.6L174.9 311.7L175.2 327.6L175.5 309.7L175.8 311.4L176.1 312.2L176.4 309.8L176.7 316.6L177.0 316.6L177.3 283.1L177.6 317.9L177.9 301.3L178.2 302.4L178.5 310.9L178.8 308.4L179.1 314.6L179.4 315.7L179.7 285.5L180.0 310.0L180.3 306.2L180.6 287.9L180.9 312.5L181.2 284.2L181.5 295.3L181.8 269.4L182.1 303.8L182.4 328.5L182.7 286.5L183.0 296.5L183.3 300.5L183.6 284.2L183.9 292.2L184.2 300.9L184.5 290.8L184.8 285.8L185.1 292.4L185.4 272.5L185.7 283.7L186.0 289.0L186.3 286.9L186.6 281.1L186.9 295.3L187.2 293.5L187.5 290.9L187.8 294.6L188.1 295.9L188.4 349.3L188.7 299.9L189.0 293.6L189.3 284.2L189.6 303.4L189.9 292.7L190.2 296.1L190.5 292.3L190.8 278.9L191.1 281.0L191.4 279.8L191.7 305.1L192.0 302.5L192.3 287.2L192.6 305.9L192.9 285.2L193.2 249.0L193.5 306.3L193.8 273.7L194.1 292.2L194.4 289.7L194.7 297.0L195.0 319.4L195.3 301.8L195.6 307.2L195.9 314.2L196.2 304.3L196.5 296.3L196.8 310.1L197.1 294.1L197.4 299.0L197.7 295.5L198.0 295.5L198.3 304.6L198.6 280.8L198.9 292.2L199.2 288.7L199.5 299.1L199.8 295.4L200.1 288.2L200.4 303.7L200.7 292.0L201.0 282.4L201.3 296.8L201.6 292.3L201.9 307.7L202.2 293.3L202.5 291.9L202.8 295.7L203.1 291.5L203.4 299.8L203.7 297.8L204.0 286.1L204.3 275.8L204.6 290.9L204.9 279.6L205.2 292.4L205.5 292.2L205.8 285.0L206.1 274.1L206.4 293.1L206.7 292.1L207.0 291.2L207.3 294.2L207.6 302.1L207.9 283.4L208.2 281.1L208.5 284.3L208.8 286.1L209.1 293.8L209.4 284.2L209.7 287.4L210.0 296.7L210.3 288.3L210.6 301.4L210.9 300.5L211.2 299.1L211.5 285.1L211.8 298.9L212.1 288.5L212.4 309.1L212.7 287.9L213.0 287.8L213.3 294.6L213.6 302.8L213.9 301.2L214.2 292.5L214.5 294.5L214.8 298.6L215.1 311.0L215.4 311.6L215.7 310.3L216.0 302.8L216.3 292.1L216.6 288.0L216.9 294.2L217.2 322.5L217.5 299.8L217.8 292.6L218.1 319.5L218.4 292.8L218.7 294.2L219.0 307.1L219.3 301.6L219.6 302.2L219.9 292.7L220.2 296.4L220.5 308.8L220.8 362.7L221.1 285.6L221.4 283.2L221.7 304.9L222.0 320.3L222.3 304.6L222.6 311.8L222.9 287.7L223.2 287.6L223.5 345.5L223.8 289.5L224.1 308.7L224.4 292.4L224.7 314.0L225.0 355.2L225.3 348.4L225.6 297.7L225.9 284.9L226.2 278.2L226.5 278.4L226.8 297.3L227.1 291.5L227.4 275.5L227.7 296.9L228.0 278.6L228.3 304.0L228.6 288.2L228.9 291.3L229.2 287.3L229.5 273.0L229.8 286.0L230.1 279.7L230.4 285.2L230.7 287.1L231.0 273.3L231.3 300.6L231.6 296.0L231.9 282.4L232.2 288.3L232.5 297.3L232.8 313.3L233.1 342.0L233.4 303.7L233.7 360.9L234.0 293.1L234.3 299.7L234.6 363.1L234.9 299.9L235.2 292.4L235.5 304.0L235.8 297.2L236.1 295.3L236.4 292.7L236.7 323.7L237.0 295.1L237.3 281.5L237.6 337.8L237.9 291.4L238.2 361.9L238.5 293.5L238.8 284.6L239.1 288.5L239.4 342.9L239.7 277.8L240.0 295.5L240.3 284.3L240.6 320.2L240.9 316.4L241.2 308.5L241.5 295.6L241.8 292.0L242.1 339.9L242.4 298.9L242.7 293.1L243.0 292.3L243.3 314.9L243.6 358.6L243.9 289.6L244.2 302.7L244.5 317.0L244.8 307.6L245.1 315.7L245.4 308.1L245.7 320.1L246.0 311.3L246.3 319.2L246.6 326.3L246.9 331.9L247.2 326.2L247.5 319.1L247.8 318.0L248.1 324.6L248.4 316.5L248.7 302.6L249.0 331.5L249.3 313.1L249.6 328.5L249.9 309.0L250.2 310.3L250.5 309.6L250.8 316.5L251.1 318.1L251.4 335.4L251.7 315.8L252.0 315.5L252.3 322.3L252.6 318.4L252.9 299.8L253.2 315.2L253.5 320.5L253.8 341.9L254.1 314.6L254.4 328.1L254.7 305.8L255.0 326.8L255.3 326.2L255.6 319.4L255.9 328.7L256.2 316.4L256.5 309.1L256.8 307.8L257.1 312.2L257.4 321.2L257.7 302.6L258.0 298.2L258.3 308.5L258.6 337.8L258.9 311.9L259.2 316.8L259.5 312.9L259.8 308.8L260.1 306.0L260.4 324.9L260.7 311.7L261.0 326.2L261.3 312.9L261.6 300.6L261.9 313.7L262.2 316.4L262.5 302.4L262.8 315.8L263.1 323.8L263.4 309.5L263.7 324.6L264.0 313.5L264.3 317.0L264.6 328.0L264.9 297.2L265.2 319.6L265.5 302.5L265.8 317.1L266.1 307.2L266.4 306.4L266.7 298.2L267.0 316.9L267.3 320.1L267.6 311.0L267.9 316.6L268.2 334.9L268.5 307.2L268.8 317.8L269.1 320.7L269.4 322.3L269.7 308.9L270.0 344.4L270.3 313.2L270.6 325.8L270.9 311.3L271.2 332.2L271.5 298.6L271.8 325.1L272.1 322.8L272.4 333.3L272.7 309.8L273.0 319.4L273.3 344.4L273.6 318.3L273.9 320.0L274.2 338.2L274.5 316.5L274.8 326.6L275.1 322.3L275.4 317.3L275.7 334.2L276.0 317.1L276.3 338.5L276.6 358.5L276.9 335.3L277.2 313.9L277.5 331.6L277.8 347.4L278.1 319.0L278.4 317.1L278.7 343.5L279.0 321.0L279.3 335.6L279.6 330.3L279.9 318.1L280.2 324.0L280.5 388.2L280.8 328.3L281.1 355.7L281.4 330.1L281.7 331.6L282.0 333.1L282.3 317.0L282.6 325.9L282.9 327.2L283.2 332.9L283.5 318.0L283.8 312.7L284.1 301.8L284.4 328.7L284.7 326.5L285.0 329.9L285.3 335.9L285.6 322.6L285.9 335.8L286.2 347.7L286.5 323.9L286.8 318.7L287.1 332.1L287.4 326.4L287.7 333.1L288.0 347.4L288.3 322.6L288.6 333.4L288.9 342.9L289.2 321.6L289.5 329.5L289.8 320.4L290.1 324.0L290.4 334.7L290.7 332.6L291.0 322.3L291.3 323.4L291.6 331.0L291.9 309.1L292.2 332.6L292.5 316.1L292.8 304.0L293.1 379.3L293.4 341.3L293.7 315.3L294.0 313.6L294.3 304.5L294.6 312.2L294.9 320.3L295.2 313.0L295.5 330.4L295.8 307.5L296.1 302.2L296.4 308.7L296.7 326.4L297.0 296.8L297.3 330.2L297.6 328.8L297.9 307.2L298.2 309.4L298.5 322.0L298.8 326.4L299.1 312.7L299.4 317.3L299.7 315.9L300.0 330.3L300.3 338.8L300.6 306.4L300.9 298.3L301.2 327.4L301.5 307.1L301.8 332.7L302.1 350.8L302.4 302.8L302.7 311.9L303.0 330.3L303.3 328.7L303.6 334.9L303.9 336.6L304.2 356.0L304.5 329.5L304.8 312.2L305.1 315.7L305.4 324.7L305.7 341.1L306.0 325.9L306.3 330.2L306.6 317.8L306.9 312.5" stroke="#708090" stroke-opacity="0.28" stroke-width="0.8"/><path d="M56 72V170" stroke="#7fffd4" stroke-opacity="0.5" stroke-width="1.2"/><path d="M65.2 262L65.5 338L65.9 296L66.2 262" stroke="#708090" stroke-opacity="0.35" stroke-width="0.9"/><path d="M55.5 72.3L56.8 73.9L58.0 75.9L59.2 75.6L59.7 76.0L60.4 79.7L61.1 82.4L62.2 86.5L63.2 85.1L63.9 83.6L65.3 77.4L66.5 74.1L67.7 71.5L68.1 70.9L68.9 70.3L69.5 70.9L70.1 70.3L70.9 72.5L71.3 73.7L72.3 75.3L73.7 77.4L74.9 78.7L76.5 81.9L77.9 84.3L78.6 85.8L79.3 85.9L80.0 87.2L80.7 89.1L81.1 89.1L82.1 91.6L83.5 95.9L84.9 99.5L86.3 101.0L87.7 102.1L88.9 104.5L90.5 105.5L91.9 105.9L92.5 107.6L93.3 108.8L94.7 111.1L96.1 112.8L97.5 116.5L98.9 118.3L99.7 120.8L100.3 121.0L101.7 123.1L103.1 122.6L104.5 123.4L105.9 122.1L107.0 120.2L108.7 119.7L110.1 119.0L111.3 119.0L112.9 118.9L114.3 118.2L115.7 118.3L117.1 118.8L118.0 119.4L118.5 119.4L119.9 121.7L121.2 123.7L122.7 125.2L124.1 126.8L125.1 127.0L125.5 127.1L126.9 127.9L128.3 127.8L129.0 128.8L129.7 128.8L131.1 129.6L132.5 131.5L133.9 130.7L135.3 129.3L136.7 128.0L138.1 126.6L139.5 124.6L140.9 125.6L142.3 127.8L143.7 128.8L145.1 130.1L146.5 132.2L147.9 134.3L149.3 133.9L150.7 133.0L152.1 133.8L153.5 133.7L154.9 133.5L156.2 132.1L157.7 133.1L159.1 135.8L159.5 136.1L160.5 137.9L161.9 140.3L162.4 141.6L163.3 142.2L164.7 143.0L165.3 144.0L166.1 144.8L167.5 145.8L168.2 147.0L168.9 147.4L170.3 149.1L171.7 149.4L173.1 151.4L174.5 152.1L174.9 152.8L175.9 154.2L176.9 154.7L177.3 155.8L178.7 157.7L180.1 155.7L180.7 153.5L181.5 153.1L182.9 151.4L183.6 150.7L184.3 149.8L185.7 149.1L187.1 146.6L187.5 146.3L188.5 148.4L189.9 149.9L190.4 151.3L191.3 151.6L192.7 152.2L194.1 153.0L195.5 155.4L196.9 158.0L198.3 159.9L198.7 161.0L199.7 162.3L201.1 163.7L201.6 164.2L202.5 164.9L203.9 164.0L204.5 163.8L205.3 163.4L206.7 162.4L207.4 159.6L208.1 161.8L209.5 162.1L210.3 161.8L210.9 162.0L212.3 160.5L213.2 160.6L213.7 159.9L215.1 158.2L216.1 156.7L216.5 156.5L217.9 154.2L219.0 152.9L220.7 151.0L221.9 149.2L223.5 149.6L224.7 151.0L226.3 148.9L227.6 148.3L229.1 145.9L230.0 143.5L230.5 147.2L231.9 150.1L232.5 152.5L233.3 152.0L234.7 154.3L235.4 154.4L236.1 154.8L237.5 155.3L237.9 155.1L238.9 155.3L240.3 155.7L240.8 154.8L241.7 155.7L243.1 157.4L243.7 158.1L244.5 158.3L245.9 159.3L246.6 159.7L247.3 160.7L248.7 162.5L249.5 162.8L250.1 164.2L251.5 164.4L252.9 165.2L253.3 166.3L254.3 164.6L255.7 163.3L256.2 163.3L257.1 162.1L258.2 161.0L259.9 163.3L261.1 164.8L262.7 166.2L264.0 167.6L265.5 167.3L265.9 168.5L266.9 169.2L268.3 170.3L268.8 171.0L269.7 172.1L271.1 173.6L271.7 174.0L272.5 175.7L273.9 176.7L275.3 178.2L276.7 178.7L278.1 178.8L279.5 177.8L280.9 176.4L282.3 173.7L283.7 175.0L285.1 176.4L286.0 176.4L286.5 176.9L287.9 178.7L289.3 179.3L290.0 180.2L290.7 180.9L292.1 183.4L293.0 184.1L293.5 185.2L294.9 188.3L296.0 190.5L297.7 188.6L299.1 191.9L300.0 192.1L300.5 191.7L301.9 188.8L303.3 190.1L304.7 191.0L306.1 191.7L307.5 194.4" stroke="#72f5c8" stroke-width="1.35"/><path d="M55.5 103.2L56.8 102.8L58.3 104.4L59.7 105.7L61.0 106.8L62.5 109.1L62.9 109.6L63.9 112.5L65.3 116.7L65.9 119.0L66.7 115.7L67.7 109.4L68.1 108.8L68.9 105.9L69.5 104.7L70.7 102.9L72.3 102.8L73.7 104.2L74.3 104.6L75.1 105.1L75.5 107.3L76.5 110.8L77.9 112.8L79.3 114.5L80.0 114.6L80.7 116.6L81.6 117.0L82.1 117.8L83.5 119.9L84.5 120.7L84.9 120.8L86.3 123.8L86.7 124.2L87.7 126.4L88.9 129.0L90.5 130.6L91.8 130.8L93.3 132.3L94.7 134.3L96.1 135.7L97.5 136.2L98.9 140.1L100.3 141.1L101.7 144.0L103.1 146.3L104.5 148.5L105.5 150.3L105.9 149.1L107.3 149.4L108.4 148.6L110.1 148.7L111.3 148.7L112.9 148.6L114.2 147.7L115.7 148.4L117.1 147.2L118.0 147.0L118.5 147.3L119.9 148.4L121.2 149.8L122.7 150.7L124.1 152.2L125.1 151.5L125.5 153.0L126.9 154.2L128.3 154.7L129.0 155.3L129.7 156.7L131.1 158.2L132.5 159.5L133.9 159.2L135.3 161.8L136.7 161.5L138.1 161.9L139.5 159.4L140.5 158.9L140.9 158.7L142.3 159.9L143.7 161.0L144.4 160.8L145.1 161.5L146.5 162.3L147.9 162.2L149.3 161.8L150.4 160.1L152.1 163.4L152.7 163.8L153.5 165.6L154.9 166.2L155.6 168.0L156.3 167.2L157.7 168.2L158.5 167.5L159.1 168.6L160.5 169.1L161.4 170.3L161.9 171.2L163.3 172.4L164.3 172.6L164.7 172.7L166.1 174.1L167.5 174.8L168.2 176.3L168.9 176.7L170.3 178.2L171.7 178.7L173.1 180.1L174.5 181.1L175.9 182.7L177.3 183.5L178.7 183.0L179.7 185.1L180.1 185.3L181.5 183.2L182.9 183.3L183.6 183.8L184.3 182.7L185.7 182.0L186.5 181.5L187.1 180.8L188.5 181.3L189.4 181.0L189.9 181.9L191.3 183.4L192.7 184.9L194.1 186.2L195.5 187.3L196.9 188.7L198.3 190.4L198.7 189.4L199.7 189.1L201.1 191.0L201.6 191.2L202.5 190.7L203.9 190.7L204.5 190.4L205.3 190.5L206.7 190.3L207.4 190.9L208.1 190.5L209.5 190.9L210.3 190.5L210.9 190.6L212.3 190.4L213.2 190.6L213.7 189.6L215.1 189.6L216.1 189.5L216.5 188.7L217.9 187.7L219.0 185.9L220.7 185.6L221.9 185.0L223.5 184.8L224.7 184.5L226.3 183.0L227.6 182.4L229.1 181.6L230.5 181.7L231.9 182.1L232.5 182.6L233.3 179.7L234.4 177.3L235.9 171.7L237.3 177.4L238.3 182.8L238.9 184.1L239.8 185.6L240.3 185.3L241.7 186.1L242.7 186.8L243.1 187.0L244.5 188.0L245.6 188.6L247.3 190.1L248.5 191.5L250.1 192.8L251.4 193.4L252.9 195.4L254.3 195.6L255.7 194.7L257.1 194.0L258.5 196.3L259.9 197.8L261.3 198.8L262.7 197.9L264.1 197.8L265.5 197.1L265.9 198.5L266.9 198.8L268.3 199.5L269.7 200.1L271.1 201.1L272.5 202.7L273.6 203.1L275.3 204.4L276.7 206.6L277.5 206.5L278.1 207.0L279.5 208.5L280.9 210.2L281.3 210.6L282.3 210.1L283.7 208.9L284.5 210.3L285.1 210.5L286.5 209.8L287.9 210.0L289.3 209.2L290.7 210.1L292.1 211.0L293.5 211.7L294.2 212.1L294.9 213.0L296.3 214.1L297.7 216.2L299.1 216.3L300.2 218.7L301.9 216.9L302.6 215.7L303.3 216.2L304.7 217.8L306.1 218.5L307.5 219.1" stroke="#5f7285" stroke-width="1.35"/><path d="M55.5 121.9L56.8 121.8L58.3 124.4L59.7 125.2L61.0 125.9L62.5 129.0L62.9 129.5L63.9 131.7L65.3 137.4L65.9 139.2L66.7 135.6L68.0 129.2L69.5 124.2L70.9 121.3L71.3 119.8L72.3 119.3L73.1 118.4L73.7 119.1L74.9 120.1L76.5 123.8L77.9 128.4L79.3 130.4L80.7 131.2L82.1 133.5L83.5 133.7L84.9 136.1L86.3 137.2L86.7 137.8L87.7 140.0L88.9 141.2L90.5 143.8L91.0 143.2L91.9 144.6L93.3 146.1L93.9 146.5L94.7 147.1L96.1 149.8L96.8 149.8L97.5 150.9L98.9 152.0L99.7 153.6L100.3 153.6L101.7 156.6L102.6 157.5L103.1 158.5L104.5 159.6L105.9 162.9L107.3 166.2L107.7 166.0L108.7 166.6L110.1 167.0L111.5 168.3L112.9 168.3L114.3 167.8L115.4 166.9L117.1 166.9L118.5 166.5L119.9 167.2L121.3 169.8L122.7 171.8L124.1 173.2L125.1 173.2L125.5 174.5L126.9 174.8L128.3 176.7L129.4 178.8L131.1 180.6L132.5 182.9L133.9 185.1L134.7 185.0L135.3 185.2L136.7 184.5L138.1 184.5L138.6 184.5L139.5 183.6L140.9 182.6L142.3 182.6L143.7 182.6L145.1 184.6L146.3 185.2L147.9 187.1L149.3 187.6L150.0 189.7L150.7 189.7L152.1 191.5L152.7 191.6L153.5 193.0L154.9 194.1L155.6 195.8L156.3 194.9L157.7 194.3L158.5 194.8L159.1 193.5L160.5 193.2L161.9 193.1L162.4 193.8L163.3 193.9L164.7 195.6L165.3 195.9L166.1 195.9L167.5 196.6L168.9 197.2L170.3 197.2L171.7 198.4L173.0 198.0L174.5 199.4L175.9 201.0L176.9 201.0L177.3 201.6L178.7 202.7L180.1 203.3L181.5 204.0L182.9 203.5L184.3 202.2L185.7 200.7L187.1 199.8L187.5 199.3L188.5 198.3L189.9 197.6L191.3 197.6L192.7 199.2L193.9 198.1L195.5 200.0L196.9 200.2L197.7 201.0L198.3 200.7L199.7 202.2L201.1 202.8L201.6 202.7L202.5 202.5L203.9 203.1L205.3 203.2L206.7 203.7L208.1 203.1L209.3 203.4L210.9 203.9L212.3 205.5L213.2 205.5L213.7 205.0L215.1 206.3L216.5 204.7L217.9 201.7L219.3 200.4L220.7 200.0L221.9 199.8L223.5 198.6L224.9 196.3L225.7 194.9L226.3 195.9L227.7 195.5L229.1 194.7L229.6 194.7L230.5 196.5L231.9 198.1L232.5 199.1L233.3 200.3L234.7 201.2L236.1 201.7L237.5 202.7L238.9 205.0L240.3 204.9L241.7 206.6L242.7 206.6L243.1 207.8L244.5 207.2L245.9 207.1L246.6 207.0L247.3 207.8L248.7 207.6L250.1 208.3L251.5 208.3L252.9 208.9L254.3 208.4L255.7 208.4L257.1 208.2L258.2 208.3L259.9 209.4L261.3 210.6L262.7 212.3L264.0 213.4L265.5 213.6L266.9 214.3L268.3 215.0L268.8 215.8L269.7 216.1L271.1 216.8L272.5 218.9L273.6 218.9L275.3 220.6L276.7 221.4L278.1 221.9L279.4 223.2L280.9 223.3L282.3 224.2L283.7 224.6L284.5 224.4L285.1 224.3L286.5 223.4L287.9 221.6L289.3 221.3L290.7 222.8L292.1 223.7L293.5 225.2L294.2 225.1L294.9 226.7L296.3 227.2L297.7 228.2L299.0 230.4L300.5 229.6L301.9 229.4L303.3 229.8L303.8 229.2L304.7 229.5L306.1 230.1L307.5 229.7" stroke="#5f7285" stroke-width="1.35"/><path d="M55.5 141.7L56.2 141.9L56.9 143.3L58.0 144.0L59.7 145.9L60.4 146.6L61.1 147.0L62.5 149.6L63.7 152.6L64.7 157.2L65.3 163.5L65.9 164.9L66.7 161.3L67.7 156.0L68.1 151.9L68.5 146.5L69.5 143.6L70.9 141.2L71.3 139.4L72.3 138.2L73.4 136.9L74.9 139.7L76.1 142.4L76.5 143.2L77.3 145.9L77.9 146.9L78.6 146.7L79.3 147.2L80.0 146.8L80.7 149.2L82.0 151.4L83.5 151.8L84.9 154.0L86.3 153.9L87.7 155.8L89.1 157.6L90.5 158.0L91.9 159.1L93.3 160.9L94.7 161.8L96.1 163.8L97.5 165.9L98.9 167.8L100.3 168.3L101.3 169.9L101.7 171.0L103.1 171.8L103.9 172.5L104.5 172.9L105.9 175.5L107.3 176.8L107.7 177.8L108.7 179.3L110.1 180.1L111.5 182.1L112.9 183.3L114.3 184.5L115.4 185.2L117.1 183.9L118.3 184.0L119.9 186.3L121.2 188.0L122.7 189.1L124.1 190.5L125.5 192.6L126.9 192.7L128.3 196.2L129.7 198.2L131.1 200.6L132.5 202.2L133.9 204.4L135.3 205.7L135.7 206.9L136.7 207.6L138.1 207.1L138.6 208.3L139.5 207.1L140.9 205.8L141.5 205.8L142.3 205.1L143.7 204.9L145.1 206.3L146.5 207.1L147.3 208.1L147.9 209.7L148.9 210.4L149.3 210.5L150.7 212.3L152.1 214.0L152.7 214.8L153.5 215.5L154.9 216.6L156.3 217.4L157.7 217.6L159.1 215.8L159.5 216.5L160.5 215.4L161.9 214.8L162.4 215.1L163.3 214.8L164.7 216.4L165.3 216.1L166.1 216.7L167.5 216.0L168.9 216.7L170.3 218.5L171.7 219.4L173.1 218.8L174.5 218.7L175.9 218.5L177.3 218.2L178.7 217.8L179.7 217.1L180.1 218.0L181.5 217.2L182.9 218.1L183.6 218.5L184.3 218.4L185.7 217.0L187.1 217.0L187.5 217.3L188.5 215.2L189.9 214.5L191.3 213.7L192.7 214.1L193.9 212.5L195.5 213.0L196.9 212.6L197.7 212.4L198.3 213.6L199.7 212.8L201.1 212.5L201.6 212.5L202.5 212.3L203.9 214.7L204.5 214.7L205.3 214.8L206.7 215.0L208.1 215.6L209.5 216.2L210.9 217.8L212.2 218.6L213.7 220.4L215.1 222.2L216.1 221.4L216.5 221.9L217.9 219.7L219.3 218.4L219.9 217.9L220.7 217.6L222.1 217.1L223.5 215.7L224.9 216.0L226.3 214.2L227.6 214.4L229.1 212.4L230.5 212.4L231.5 211.2L231.9 211.4L233.3 214.0L234.4 214.0L236.1 212.1L237.5 216.2L237.9 217.7L238.9 218.6L240.3 220.3L240.8 220.6L241.7 220.2L243.1 221.2L244.5 222.1L245.9 223.2L247.3 222.9L248.5 224.1L250.1 224.7L251.5 224.2L252.4 225.1L252.9 225.5L254.3 226.4L255.7 227.5L256.2 227.7L257.1 227.9L258.5 229.1L259.9 229.9L261.3 229.4L262.7 229.9L264.0 229.5L265.5 231.6L266.9 233.4L267.8 232.6L268.3 233.9L269.7 233.8L271.1 235.1L271.7 234.3L272.5 236.0L273.9 237.6L274.8 237.6L275.3 238.9L276.7 240.4L278.1 242.1L278.5 242.4L279.5 241.8L280.9 241.8L282.1 241.4L283.7 239.6L285.1 239.7L286.5 238.1L286.9 239.2L287.9 237.7L289.3 237.7L290.5 237.6L292.1 238.8L293.5 240.8L294.2 240.9L294.9 241.7L296.3 244.0L297.7 245.7L299.1 247.2L300.5 249.1L301.4 248.9L301.9 249.3L303.3 248.2L304.7 248.0L306.1 246.8L307.5 245.6" stroke="#5f7285" stroke-width="1.35"/><path d="M55.5 172.6L56.2 173.1L56.9 173.8L58.0 174.5L59.7 176.9L61.1 178.4L61.6 179.7L62.5 180.6L63.2 181.4L63.9 187.6L64.7 197.8L66.5 195.1L67.1 193.1L67.7 188.3L68.1 185.8L68.9 181.1L69.5 178.9L70.1 178.2L70.9 177.1L71.9 175.0L72.3 174.4L73.7 172.7L75.1 176.2L75.5 176.8L76.5 178.4L77.3 180.4L77.9 181.8L79.2 183.1L80.7 186.1L82.0 187.0L83.5 188.7L84.9 191.5L86.3 192.5L87.7 193.6L89.1 195.1L90.5 196.3L91.9 197.3L93.3 198.2L94.7 200.2L96.1 200.7L97.5 202.5L98.9 203.4L100.3 206.2L101.3 206.5L101.7 205.9L103.1 207.4L104.5 209.3L105.9 212.5L107.3 213.8L108.7 215.6L110.1 218.3L111.5 220.1L112.9 221.5L113.5 222.6L114.3 223.2L115.7 224.8L116.4 226.0L117.1 226.4L118.3 224.1L119.9 226.7L121.2 226.5L122.7 228.1L124.1 230.8L125.5 230.6L126.9 231.0L128.3 234.6L129.7 236.9L131.1 239.4L132.5 242.5L133.9 243.8L135.3 245.9L135.7 246.8L136.7 247.1L138.1 248.5L138.6 247.9L139.5 249.0L140.5 247.2L140.9 246.6L142.3 245.3L143.4 244.1L145.1 245.6L146.3 247.5L147.9 249.6L148.9 250.6L149.3 251.5L150.7 252.7L152.1 253.8L152.7 253.9L153.5 255.0L154.9 255.9L156.0 257.7L157.7 256.9L159.1 257.1L160.0 257.0L160.5 256.9L161.9 258.1L163.3 259.2L163.9 259.6L164.7 258.8L166.1 259.1L167.5 259.7L168.9 260.2L170.3 259.9L171.6 260.1L173.1 260.2L174.5 259.3L175.4 259.0L175.9 259.1L177.3 257.3L178.7 257.3L179.3 257.5L180.1 256.9L181.5 257.3L182.9 258.3L184.3 258.0L185.7 258.0L187.0 259.5L188.5 256.8L189.9 257.4L190.9 256.3L191.3 255.5L192.7 255.5L193.9 254.6L195.5 254.8L196.9 254.5L197.7 253.6L198.3 253.2L199.7 254.6L201.1 255.6L201.6 255.6L202.5 255.0L203.9 254.2L205.3 255.0L206.7 255.8L208.1 256.7L208.9 258.0L209.5 258.6L210.9 259.2L212.3 261.5L212.7 262.5L213.7 263.2L215.1 263.9L215.6 263.9L216.5 263.5L217.9 263.2L218.5 262.3L219.3 261.6L220.7 264.8L221.4 264.2L222.1 263.7L223.5 261.4L224.3 260.4L224.9 260.3L226.3 259.2L227.7 257.5L228.2 257.7L229.1 256.9L230.5 256.4L231.9 255.8L233.3 256.2L234.7 257.5L236.1 259.4L237.5 260.5L238.9 261.4L240.3 263.0L240.7 263.4L241.7 264.1L243.1 264.5L243.6 265.3L244.5 265.8L245.9 265.7L246.5 265.4L247.3 267.1L248.7 267.3L249.4 267.9L250.1 268.7L251.5 269.5L252.3 269.3L252.9 269.4L254.3 268.6L255.0 268.6L255.7 268.7L257.1 268.9L258.5 268.5L259.9 269.9L261.3 270.3L262.7 271.1L264.1 272.4L265.5 273.6L266.9 273.5L267.4 273.6L268.3 275.7L269.7 276.1L271.1 277.6L271.7 278.7L272.5 279.0L273.9 280.7L275.3 281.0L276.1 281.5L276.7 282.7L278.1 284.3L279.5 285.1L280.4 285.4L280.9 285.9L282.3 286.4L283.7 287.5L284.8 288.3L286.5 285.4L287.9 284.1L289.1 281.6L290.7 281.7L292.1 280.5L293.5 282.0L294.9 284.5L295.7 284.4L296.3 285.8L297.7 289.7L298.9 293.5L300.5 291.8L301.9 291.3L303.3 291.5L304.7 291.0L306.1 290.4L307.5 291.3" stroke="#5f7285" stroke-width="1.35"/><path d="M55.5 217.0L56.9 223.6L58.3 228.0L59.7 233.2L61.1 234.6L62.5 237.2L63.0 237.7L63.9 241.7L64.6 244.1L65.3 265.4L65.8 276.0L66.3 268.1L66.7 259.6L67.6 243.6L68.1 239.0L69.0 226.2L69.5 224.6L70.9 223.2L72.3 222.6L73.6 220.3L75.1 223.5L76.0 224.1L76.5 227.8L77.9 233.3L79.3 234.5L80.7 238.1L82.1 237.0L83.5 237.1L84.0 238.1L84.9 234.2L86.3 233.1L87.0 231.8L87.7 236.5L89.1 238.9L90.0 241.4L90.5 240.0L91.9 236.9L93.0 233.2L94.7 229.6L96.1 226.6L97.0 223.9L97.5 225.9L98.9 228.1L100.0 228.4L101.7 231.1L103.0 233.7L104.5 234.2L105.9 237.0L107.3 240.1L108.7 245.1L110.1 248.4L111.5 250.6L112.0 250.4L112.9 252.9L114.3 254.5L115.0 253.8L115.7 255.7L117.1 260.8L118.0 264.3L118.5 263.9L119.9 272.9L121.3 277.4L122.7 281.8L124.1 282.7L125.5 283.6L126.9 293.6L128.1 299.0L129.5 295.7L131.1 297.6L132.4 300.8L133.7 305.2L135.3 298.2L136.6 296.2L138.1 299.6L139.5 295.7L140.1 293.0L140.9 293.3L142.0 291.0L143.6 287.1L144.9 291.3L146.5 293.0L146.9 294.0L147.9 301.0L149.3 307.9L150.7 302.0L152.1 293.3L153.5 284.1L154.9 295.4L156.1 308.1L157.5 294.9L159.0 301.5L160.4 306.3L161.9 304.8L163.3 301.4L163.9 300.5L164.7 302.6L165.8 305.1L167.1 313.4L167.5 309.5L168.7 308.5L170.3 306.4L171.7 307.9L172.5 311.9L173.1 308.4L174.5 306.2L175.9 307.9L176.4 306.0L177.3 304.5L178.3 303.7L178.7 300.5L180.1 296.3L181.5 293.6L182.9 292.3L184.3 291.5L185.7 286.8L186.1 288.1L187.1 288.8L188.0 292.1L188.5 291.5L189.9 291.5L190.9 291.7L191.3 291.6L192.7 292.3L193.8 291.4L195.5 296.5L196.9 298.8L197.6 298.9L198.3 297.7L199.6 296.2L201.1 294.1L201.5 293.1L202.5 295.1L203.4 297.5L203.9 294.6L205.3 291.0L206.7 289.9L207.3 288.8L208.1 289.6L209.5 290.2L210.8 289.9L212.3 292.5L213.7 292.7L215.1 294.1L216.5 293.1L217.9 298.7L219.3 302.0L220.7 299.4L222.1 298.9L223.5 298.0L224.9 297.4L225.3 295.2L226.3 294.6L227.7 294.8L228.2 292.5L229.1 292.0L230.5 289.5L231.9 294.4L233.3 305.3L234.7 304.7L235.5 300.9L236.1 299.2L237.4 299.1L238.9 301.1L239.4 302.5L240.3 300.6L241.3 298.2L241.7 299.1L243.1 306.7L244.5 306.5L245.2 308.3L245.9 313.0L247.1 326.8L248.7 316.8L250.1 315.1L251.3 313.9L252.2 309.8L252.9 311.5L254.3 313.1L255.4 316.8L257.1 315.3L258.5 315.6L259.9 315.1L261.3 313.9L262.0 314.5L262.7 313.0L264.1 311.7L265.5 312.6L266.9 313.4L267.4 314.1L268.3 316.0L269.7 316.4L270.7 315.3L271.1 315.9L272.5 318.0L273.9 318.2L275.3 320.7L276.7 323.8L277.2 325.2L278.1 328.9L279.3 335.7L280.9 330.3L281.5 328.7L282.3 325.6L283.7 323.1L285.1 328.8L285.9 329.0L286.5 332.0L287.9 337.8L289.3 331.8L290.2 329.6L290.7 328.3L292.1 321.1L293.5 317.8L294.6 314.8L296.3 318.2L296.7 317.2L297.7 318.3L298.9 318.8L300.5 317.6L301.9 320.1L303.3 321.5L304.3 322.2L304.7 324.7L306.1 328.1L307.0 331.7" stroke="#5f7285" stroke-width="1.35"/></g><path d="M62.0 60.0V82.0" stroke="#000" stroke-width="1.1" stroke-dasharray="2.5 1.8" fill="none"/><path d="M101.0 81.5V117.7" stroke="#000" stroke-width="1.1" stroke-dasharray="2.5 1.8" fill="none"/><path d="M104.3 60.0V117.7" stroke="#000" stroke-width="1.1" stroke-dasharray="2.5 1.8" fill="none"/><path d="M133.0 59.0V118.0" stroke="#000" stroke-width="1.1" stroke-dasharray="2.5 1.8" fill="none"/><path d="M178.5 60.0V153.0" stroke="#000" stroke-width="1.1" stroke-dasharray="2.5 1.8" fill="none"/><path d="M182.50 312.4V348.1" stroke="#000" stroke-width="1.1" stroke-dasharray="2.5 1.8" fill="none"/><path d="M190.50 312.4V348.1" stroke="#000" stroke-width="1.1" stroke-dasharray="2.5 1.8" fill="none"/><path d="M198.50 312.4V348.1" stroke="#000" stroke-width="1.1" stroke-dasharray="2.5 1.8" fill="none"/><path d="M207.20 312.4V348.1" stroke="#000" stroke-width="1.1" stroke-dasharray="2.5 1.8" fill="none"/><path d="M215.50 312.4V348.1" stroke="#000" stroke-width="1.1" stroke-dasharray="2.5 1.8" fill="none"/><path d="M224.20 312.4V348.1" stroke="#000" stroke-width="1.1" stroke-dasharray="2.5 1.8" fill="none"/><text transform="translate(66.8 57.4) rotate(-90)" font-size="11.0" fill="#000" stroke="#000" stroke-width="0.25">Ca&#8201;II</text><text transform="translate(104.1 73.4) rotate(-90)" font-size="11.0" fill="#000" stroke="#000" stroke-width="0.25">C&#8201;I</text><text transform="translate(106.5 57.3) rotate(-90)" font-size="11.0" fill="#000" stroke="#000" stroke-width="0.25">Mg&#8201;II</text><text transform="translate(135.3 56.5) rotate(-90)" font-size="11.0" fill="#000" stroke="#000" stroke-width="0.25">Si&#8201;III</text><text transform="translate(180.5 57.3) rotate(-90)" font-size="11.0" fill="#000" stroke="#000" stroke-width="0.25">Mg&#8201;II</text><text y="358.9" font-size="11" fill="#000" stroke="#000" stroke-width="0.2"><tspan x="172.9">Co</tspan><tspan x="188.4">II,</tspan><tspan x="202">Fe</tspan><tspan x="216.7">II</tspan></text><text x="257.6" y="150.3" font-size="16.7" fill="#7fffd4">SN 2015M</text><text x="257.3" y="266.3" font-size="16.7" fill="#708090">SN 2013ao</text><text x="311.2" y="194.1" font-size="8.4" fill="#7fffd4">+6.37d</text><text x="311.2" y="219.2" font-size="8.4" fill="#708090">+8.74d</text><text x="311.2" y="230.8" font-size="8.4" fill="#708090">+13.03d</text><text x="311.2" y="247.0" font-size="8.4" fill="#708090">+19.66d</text><text x="311.2" y="290.9" font-size="8.4" fill="#708090">+21.66d</text><text x="311.2" y="331.0" font-size="8.4" fill="#708090">+65.32d</text><path d="M55.4 9.3v2.5M55.4 370.3v-2.5M63.8 9.3v1.5M63.8 370.3v-1.5M72.3 9.3v1.5M72.3 370.3v-1.5M80.7 9.3v1.5M80.7 370.3v-1.5M89.1 9.3v2.5M89.1 370.3v-2.5M97.5 9.3v1.5M97.5 370.3v-1.5M106.0 9.3v1.5M106.0 370.3v-1.5M114.4 9.3v1.5M114.4 370.3v-1.5M122.8 9.3v2.5M122.8 370.3v-2.5M131.3 9.3v1.5M131.3 370.3v-1.5M139.7 9.3v1.5M139.7 370.3v-1.5M148.1 9.3v1.5M148.1 370.3v-1.5M156.6 9.3v2.5M156.6 370.3v-2.5M165.0 9.3v1.5M165.0 370.3v-1.5M173.4 9.3v1.5M173.4 370.3v-1.5M181.8 9.3v1.5M181.8 370.3v-1.5M190.3 9.3v2.5M190.3 370.3v-2.5M198.7 9.3v1.5M198.7 370.3v-1.5M207.1 9.3v1.5M207.1 370.3v-1.5M215.6 9.3v1.5M215.6 370.3v-1.5M224.0 9.3v2.5M224.0 370.3v-2.5M232.4 9.3v1.5M232.4 370.3v-1.5M240.9 9.3v1.5M240.9 370.3v-1.5M249.3 9.3v1.5M249.3 370.3v-1.5M257.7 9.3v2.5M257.7 370.3v-2.5M266.1 9.3v1.5M266.1 370.3v-1.5M274.6 9.3v1.5M274.6 370.3v-1.5M283.0 9.3v1.5M283.0 370.3v-1.5M291.4 9.3v2.5M291.4 370.3v-2.5M299.9 9.3v1.5M299.9 370.3v-1.5M308.3 9.3v1.5M308.3 370.3v-1.5M316.7 9.3v1.5M316.7 370.3v-1.5M325.2 9.3v2.5M325.2 370.3v-2.5M333.6 9.3v1.5M333.6 370.3v-1.5M342.0 9.3v1.5M342.0 370.3v-1.5M55.5 9.3h2.5M349.5 9.3h-2.5M55.5 23.7h1.5M349.5 23.7h-1.5M55.5 38.2h1.5M349.5 38.2h-1.5M55.5 52.6h1.5M349.5 52.6h-1.5M55.5 67.1h1.5M349.5 67.1h-1.5M55.5 81.5h2.5M349.5 81.5h-2.5M55.5 95.9h1.5M349.5 95.9h-1.5M55.5 110.4h1.5M349.5 110.4h-1.5M55.5 124.8h1.5M349.5 124.8h-1.5M55.5 139.3h1.5M349.5 139.3h-1.5M55.5 153.7h2.5M349.5 153.7h-2.5M55.5 168.1h1.5M349.5 168.1h-1.5M55.5 182.6h1.5M349.5 182.6h-1.5M55.5 197.0h1.5M349.5 197.0h-1.5M55.5 211.5h1.5M349.5 211.5h-1.5M55.5 225.9h2.5M349.5 225.9h-2.5M55.5 240.3h1.5M349.5 240.3h-1.5M55.5 254.8h1.5M349.5 254.8h-1.5M55.5 269.2h1.5M349.5 269.2h-1.5M55.5 283.7h1.5M349.5 283.7h-1.5M55.5 298.1h2.5M349.5 298.1h-2.5M55.5 312.5h1.5M349.5 312.5h-1.5M55.5 327.0h1.5M349.5 327.0h-1.5M55.5 341.4h1.5M349.5 341.4h-1.5M55.5 355.9h1.5M349.5 355.9h-1.5M55.5 370.3h2.5M349.5 370.3h-2.5" stroke="#777" stroke-width="0.8" fill="none"/><path d="M55.5 8.8V370.8M349.5 8.8V370.8M55 9.3H350M55 370.3H350" stroke="#8c8c8c" stroke-width="1" fill="none"/><text x="24.7" y="14.5" font-size="13.4" fill="#000" stroke="#000" stroke-width="0.3">&#8722;12</text><text x="24.7" y="86.7" font-size="13.4" fill="#000" stroke="#000" stroke-width="0.3">&#8722;13</text><text x="24.7" y="158.9" font-size="13.4" fill="#000" stroke="#000" stroke-width="0.3">&#8722;14</text><text x="24.7" y="231.1" font-size="13.4" fill="#000" stroke="#000" stroke-width="0.3">&#8722;15</text><text x="24.7" y="303.3" font-size="13.4" fill="#000" stroke="#000" stroke-width="0.3">&#8722;16</text><text x="24.7" y="375.5" font-size="13.4" fill="#000" stroke="#000" stroke-width="0.3">&#8722;17</text><text x="55.3" y="382.6" font-size="13.4" text-anchor="middle" fill="#000" stroke="#000" stroke-width="0.3">0.8</text><text x="89.0" y="382.6" font-size="13.4" text-anchor="middle" fill="#000" stroke="#000" stroke-width="0.3">1.0</text><text x="122.7" y="382.6" font-size="13.4" text-anchor="middle" fill="#000" stroke="#000" stroke-width="0.3">1.2</text><text x="156.5" y="382.6" font-size="13.4" text-anchor="middle" fill="#000" stroke="#000" stroke-width="0.3">1.4</text><text x="190.2" y="382.6" font-size="13.4" text-anchor="middle" fill="#000" stroke="#000" stroke-width="0.3">1.6</text><text x="223.9" y="382.6" font-size="13.4" text-anchor="middle" fill="#000" stroke="#000" stroke-width="0.3">1.8</text><text x="257.6" y="382.6" font-size="13.4" text-anchor="middle" fill="#000" stroke="#000" stroke-width="0.3">2.0</text><text x="291.3" y="382.6" font-size="13.4" text-anchor="middle" fill="#000" stroke="#000" stroke-width="0.3">2.2</text><text x="325.1" y="382.6" font-size="13.4" text-anchor="middle" fill="#000" stroke="#000" stroke-width="0.3">2.4</text><text x="80.6" y="405" font-size="22.2" fill="#000" stroke="#000" stroke-width="0.3">Rest wavelength [µm]</text><text transform="translate(16.6 188) rotate(-90)" font-size="22.2" text-anchor="middle" fill="#000" stroke="#000" stroke-width="0.3">Log<tspan font-size="15.5" dy="4">10</tspan><tspan dy="-4">(</tspan><tspan font-style="italic">F</tspan><tspan font-size="15.5" font-style="italic" dy="4">λ</tspan><tspan dy="-4">) + constant</tspan></text></svg></body></html>
